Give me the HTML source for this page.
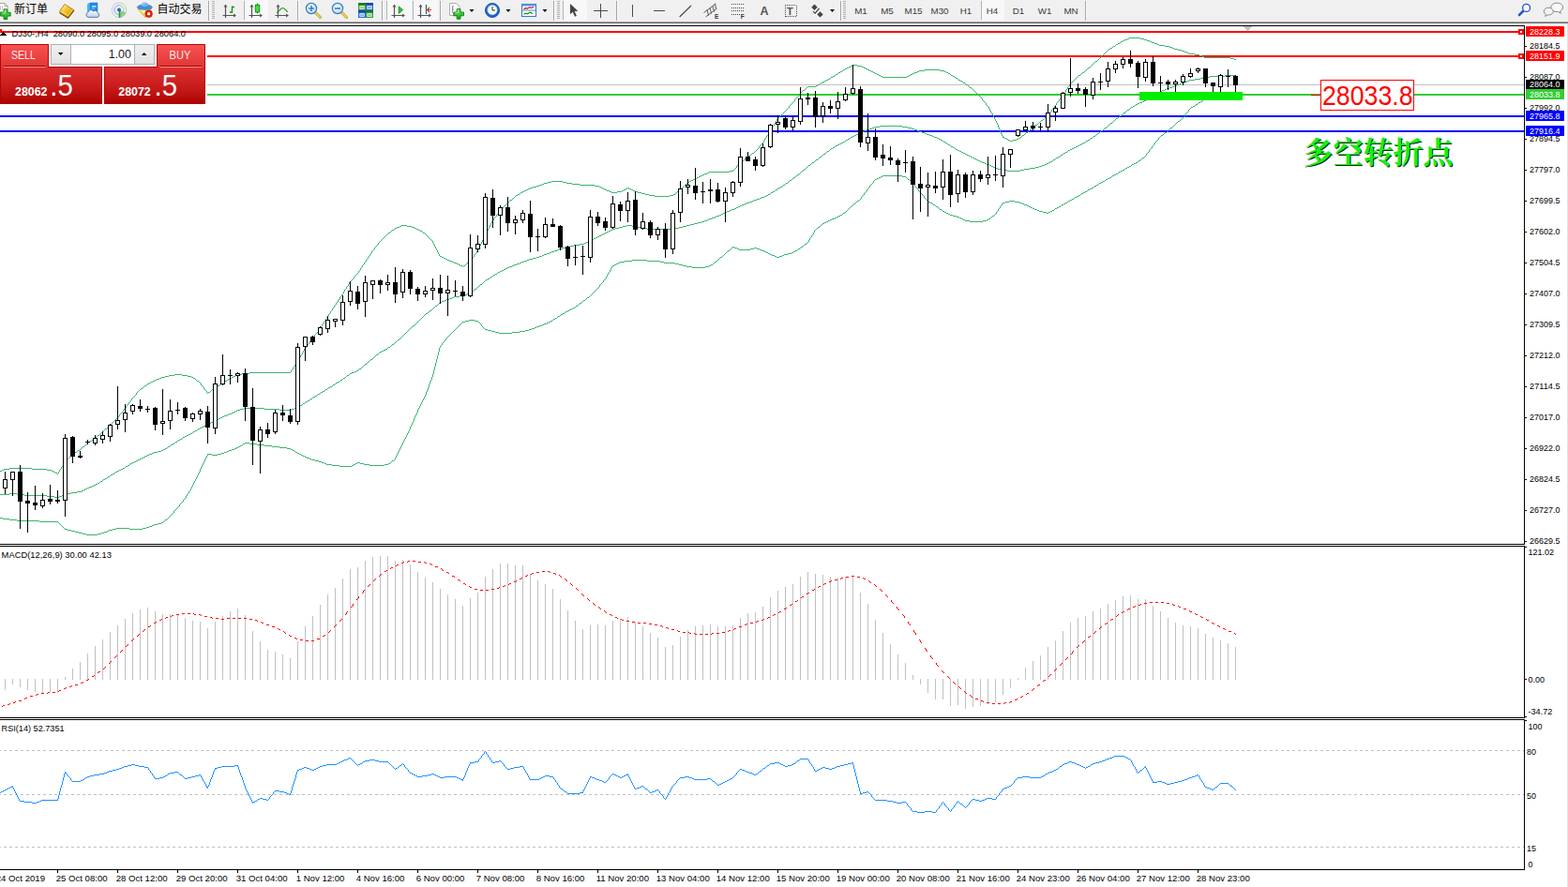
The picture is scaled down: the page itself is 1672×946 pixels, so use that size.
<!DOCTYPE html>
<html><head><meta charset="utf-8"><title>DJ30 H4</title>
<style>
html,body{margin:0;padding:0;background:#fff;}
body{width:1672px;height:946px;overflow:hidden;position:relative;font-family:"Liberation Sans", sans-serif;}
#tb{position:absolute;left:0;top:0;width:1672px;height:23px;background:#f0f0f0;}
.l{position:absolute;}
svg{position:absolute;left:0;top:0;}
svg text{font-family:"Liberation Sans", sans-serif;}
.ax{font-size:9.6px;fill:#000;}
.tbt{font-size:9.8px;fill:#3a3a3a;}
</style></head><body>

<div id="tb"></div>
<div class="l" style="left:0;top:23px;width:1672px;height:1px;background:#a0a0a0"></div>
<div class="l" style="left:0;top:24px;width:1672px;height:1px;background:#696969"></div>
<div class="l" style="left:1671px;top:25px;width:1px;height:921px;background:#e3e3e3"></div>
<svg width="1672" height="946" viewBox="0 0 1672 946">
<defs>
<linearGradient id="gplus" x1="0" y1="0" x2="0" y2="1"><stop offset="0" stop-color="#6be86b"/><stop offset="1" stop-color="#0fa80f"/></linearGradient>
<linearGradient id="ggold" x1="0" y1="0" x2="1" y2="1"><stop offset="0" stop-color="#ffe680"/><stop offset="0.5" stop-color="#f0c020"/><stop offset="1" stop-color="#b07a10"/></linearGradient>
<linearGradient id="gblue" x1="0" y1="0" x2="0" y2="1"><stop offset="0" stop-color="#59b4ff"/><stop offset="1" stop-color="#1a6fd6"/></linearGradient>
<linearGradient id="gcloud" x1="0" y1="0" x2="0" y2="1"><stop offset="0" stop-color="#ffffff"/><stop offset="1" stop-color="#b9cdea"/></linearGradient>
<radialGradient id="glens" cx="0.4" cy="0.35" r="0.7"><stop offset="0" stop-color="#f4fbff"/><stop offset="1" stop-color="#b8dcf2"/></radialGradient>
<linearGradient id="gsellT" x1="0" y1="0" x2="0" y2="1"><stop offset="0" stop-color="#f85252"/><stop offset="1" stop-color="#e03636"/></linearGradient>
<linearGradient id="gsellB" x1="0" y1="0" x2="0" y2="1"><stop offset="0" stop-color="#dc3030"/><stop offset="0.55" stop-color="#c81c1c"/><stop offset="1" stop-color="#ac0404"/></linearGradient>
<linearGradient id="gbtn" x1="0" y1="0" x2="0" y2="1"><stop offset="0" stop-color="#f0f0f0"/><stop offset="1" stop-color="#e2e2e2"/></linearGradient>
<pattern id="chk" width="2" height="2" patternUnits="userSpaceOnUse"><rect width="2" height="2" fill="#ffffff"/><rect width="1" height="1" fill="#f0f0f0"/><rect x="1" y="1" width="1" height="1" fill="#f0f0f0"/></pattern>
</defs>
<g><path d="M-0.500 3.500h5.500l3 3v6.500h-8.500z" fill="#fdfdfd" stroke="#8e8e8e" stroke-width="0.800"/><path d="M5 3.500v3h3" fill="none" stroke="#8e8e8e" stroke-width="0.700"/><path d="M0 7.500h4M0 9.500h6" stroke="#7a7a7a" stroke-width="0.800" stroke-dasharray="1 1"/></g>
<path d="M4.0 9.899999999999999h3.8v3.4h3.4v3.8h-3.4v3.4h-3.8v-3.4h-3.4v-3.8h3.4z" fill="url(#gplus)" stroke="#0b7a0b" stroke-width="0.9" stroke-linejoin="round"/>
<path d="M5.300000000000001 10.899999999999999v3.0h-3.0" stroke="#c8ffc8" stroke-width="0.8" fill="none" opacity="0.9"/>
<text x="15" y="13.8" font-size="12" fill="#000" textLength="36" lengthAdjust="spacingAndGlyphs" style="font-family:'Liberation Sans','Noto Sans CJK SC',sans-serif">新订单</text>
<g><path d="M63.600 13.300c-0.300-0.600 0-1.300 0.400-1.900l5-6.900 10 6.400-6.500 8.300z" fill="url(#ggold)" stroke="#a8700c" stroke-width="0.800" stroke-linejoin="round"/><path d="M63.800 13.600l8.700 5.500 6.300-8" stroke="#8a5a08" stroke-width="1.500" fill="none" stroke-linejoin="round"/><path d="M65.500 12.300l7 4.400 4.800-6.100" stroke="#fff0b0" stroke-width="0.700" fill="none"/><path d="M67 10l3.200-4.300" stroke="#fff6c8" stroke-width="1" opacity="0.800"/></g>
<g><path d="M93.2 4.2l3-1.200h7.800v9.500h-10.800z" fill="#1e8ae6"/><path d="M93.2 4.2l3-1.200v9.500h-3z" fill="#35bcff"/><path d="M96.2 3h7.800v9.500h-7.800z" fill="none" stroke="#1478d8" stroke-width="0.5"/><rect x="98" y="6.200" width="4.600" height="1.300" fill="#e8f4ff"/><rect x="98" y="8.600" width="3" height="0.900" fill="#9fd0ff"/><path d="M94.200 18.400a2.600 2.600 0 0 1-0.300-5.100a3 3 0 0 1 5.600-1.200a2.700 2.700 0 0 1 4.500 1.500a2.500 2.500 0 0 1 0 4.800z" fill="url(#gcloud)" stroke="#5474a8" stroke-width="0.9"/></g>
<g fill="none"><path d="M127 18.500a7.800 7.800 0 0 0 0-15.600" stroke="#b4d8ae" stroke-width="1"/><path d="M127 2.900a7.800 7.800 0 0 0 0 15.600" stroke="#b8caf0" stroke-width="1"/><path d="M127 15.600a5 5 0 0 0 0-10" stroke="#9ccc9c" stroke-width="1"/><path d="M127 5.600a5 5 0 0 0 0 10" stroke="#86a4e6" stroke-width="1"/><path d="M127 10.500v8a8 8 0 0 0 7.400-5z" fill="#5cb05c" opacity="0.550"/><path d="M127.500 11V18.800" stroke="#18a018" stroke-width="1.500"/><circle cx="127" cy="10.400" r="2" fill="#2a62d8"/></g>
<g><path d="M147 9.500h14.500l-3.500 4.500-3.200 4.700z" fill="#f7d84e" stroke="#c89c18" stroke-width="0.700"/><path d="M148.500 10.300h8l-2 5z" fill="#fdf0a8"/><path d="M146.200 7.600c0.500 1.800 4 2.900 8.100 2.900s7.700-1.100 8.200-2.900c-0.600-1.200-2-1.900-3.600-2.200-2.800 0.900-6.400 0.900-9.200 0-1.600 0.300-3 1-3.500 2.200z" fill="#3f92dc" stroke="#2a72b8" stroke-width="0.500"/><path d="M150.300 6.800c0-5.200 8-5.200 8 0-2.400 1.100-5.600 1.100-8 0z" fill="#6bb8f0" stroke="#2a72b8" stroke-width="0.500"/><path d="M151.500 5.200c0.600-2 3-2.400 4.200-1.600" stroke="#c8e6fb" stroke-width="0.800" fill="none"/><circle cx="158.600" cy="14.700" r="3.900" fill="#e02412" stroke="#b01208" stroke-width="0.500"/><rect x="157.200" y="13.300" width="2.800" height="2.800" fill="#fff"/></g>
<text x="167.6" y="13.8" font-size="12" fill="#000" textLength="48" lengthAdjust="spacingAndGlyphs" style="font-family:'Liberation Sans','Noto Sans CJK SC',sans-serif">自动交易</text>
<rect x="222" y="1" width="1" height="21" fill="#a5a5a5" shape-rendering="crispEdges"/><rect x="223" y="1" width="1" height="21" fill="#fbfbfb" shape-rendering="crispEdges"/>
<rect x="226" y="1" width="3" height="1" fill="#b0b0b0" shape-rendering="crispEdges"/>
<rect x="226" y="3" width="3" height="1" fill="#b0b0b0" shape-rendering="crispEdges"/>
<rect x="226" y="5" width="3" height="1" fill="#b0b0b0" shape-rendering="crispEdges"/>
<rect x="226" y="7" width="3" height="1" fill="#b0b0b0" shape-rendering="crispEdges"/>
<rect x="226" y="9" width="3" height="1" fill="#b0b0b0" shape-rendering="crispEdges"/>
<rect x="226" y="11" width="3" height="1" fill="#b0b0b0" shape-rendering="crispEdges"/>
<rect x="226" y="13" width="3" height="1" fill="#b0b0b0" shape-rendering="crispEdges"/>
<rect x="226" y="15" width="3" height="1" fill="#b0b0b0" shape-rendering="crispEdges"/>
<rect x="226" y="17" width="3" height="1" fill="#b0b0b0" shape-rendering="crispEdges"/>
<rect x="226" y="19" width="3" height="1" fill="#b0b0b0" shape-rendering="crispEdges"/>
<g stroke="#555" stroke-width="1.2" fill="#555"><path d="M240.5 6V19M237.5 16.5H250.5" fill="none"/><path d="M240.5 4.5l-2 3h4zM252.0 16.5l-3-2v4z" stroke="none"/></g>
<path d="M247.5 6.5V14M247.5 7.5h2.5M245 13h2.5" stroke="#179017" stroke-width="1.3" fill="none"/>
<rect x="260" y="1" width="1" height="20" fill="#b4b4b4" shape-rendering="crispEdges"/>
<rect x="261" y="0" width="25" height="22" fill="url(#chk)" shape-rendering="crispEdges"/>
<g stroke="#555" stroke-width="1.2" fill="#555"><path d="M268.5 6V19M265.5 16.5H278.5" fill="none"/><path d="M268.5 4.5l-2 3h4zM280.0 16.5l-3-2v4z" stroke="none"/></g>
<path d="M274.5 3.5v11" stroke="#0c8c0c" stroke-width="1.2"/><rect x="272.3" y="5.3" width="4.4" height="7.6" fill="#3fe03f" stroke="#0c8c0c" stroke-width="0.9"/>
<g stroke="#555" stroke-width="1.2" fill="#555"><path d="M296.5 6V19M293.5 16.5H306.5" fill="none"/><path d="M296.5 4.5l-2 3h4zM308.0 16.5l-3-2v4z" stroke="none"/></g>
<path d="M295 13.5c3-1.5 4.5-5 6.5-5s3 3 5.5 4" stroke="#1e9a1e" stroke-width="1.2" fill="none"/>
<rect x="317" y="1" width="1" height="21" fill="#a5a5a5" shape-rendering="crispEdges"/><rect x="318" y="1" width="1" height="21" fill="#fbfbfb" shape-rendering="crispEdges"/>
<g><path d="M336 13l5.5 5.5" stroke="#c9a21a" stroke-width="3" stroke-linecap="round"/><path d="M336 13l5.5 5.5" stroke="#f2dc6a" stroke-width="1.2" stroke-linecap="round"/><circle cx="332" cy="9" r="5.6" fill="url(#glens)" stroke="#2e7cc4" stroke-width="1.2"/><path d="M329 9h6M332 6v6" stroke="#3f86b4" stroke-width="1.7"/></g>
<g><path d="M364 13l5.5 5.5" stroke="#c9a21a" stroke-width="3" stroke-linecap="round"/><path d="M364 13l5.5 5.5" stroke="#f2dc6a" stroke-width="1.2" stroke-linecap="round"/><circle cx="360" cy="9" r="5.6" fill="url(#glens)" stroke="#2e7cc4" stroke-width="1.2"/><path d="M357 9h6" stroke="#3f86b4" stroke-width="1.7"/></g>
<rect x="382" y="3" width="8" height="8" fill="#2ea02e"/><rect x="382" y="3" width="8" height="2.2" fill="#1c7a1c"/><rect x="383.3" y="6.2" width="5.4" height="3.6" fill="#eef4ff"/><rect x="384" y="7.6" width="4" height="0.9" fill="#2ea02e"/>
<rect x="390" y="3" width="8" height="8" fill="#2868d8"/><rect x="390" y="3" width="8" height="2.2" fill="#1448a8"/><rect x="391.3" y="6.2" width="5.4" height="3.6" fill="#eef4ff"/><rect x="392" y="7.6" width="4" height="0.9" fill="#2868d8"/>
<rect x="382" y="11" width="8" height="8" fill="#2868d8"/><rect x="382" y="11" width="8" height="2.2" fill="#1448a8"/><rect x="383.3" y="14.2" width="5.4" height="3.6" fill="#eef4ff"/><rect x="384" y="15.6" width="4" height="0.9" fill="#2868d8"/>
<rect x="390" y="11" width="8" height="8" fill="#2ea02e"/><rect x="390" y="11" width="8" height="2.2" fill="#1c7a1c"/><rect x="391.3" y="14.2" width="5.4" height="3.6" fill="#eef4ff"/><rect x="392" y="15.6" width="4" height="0.9" fill="#2ea02e"/>
<rect x="407" y="1" width="1" height="21" fill="#a5a5a5" shape-rendering="crispEdges"/><rect x="408" y="1" width="1" height="21" fill="#fbfbfb" shape-rendering="crispEdges"/>
<rect x="412" y="1" width="1" height="20" fill="#b4b4b4" shape-rendering="crispEdges"/>
<rect x="413" y="0" width="26" height="22" fill="url(#chk)" shape-rendering="crispEdges"/>
<g stroke="#555" stroke-width="1.2" fill="#555"><path d="M420.5 6V19M417.5 16.5H430.5" fill="none"/><path d="M420.5 4.5l-2 3h4zM432.0 16.5l-3-2v4z" stroke="none"/></g>
<path d="M425.2 6.8v7.6l4.4-3.8z" fill="#34c034" stroke="#148a14" stroke-width="0.8"/>
<rect x="440" y="1" width="1" height="20" fill="#b4b4b4" shape-rendering="crispEdges"/>
<rect x="441" y="0" width="26" height="22" fill="url(#chk)" shape-rendering="crispEdges"/>
<g stroke="#555" stroke-width="1.2" fill="#555"><path d="M448.5 6V19M445.5 16.5H458.5" fill="none"/><path d="M448.5 4.5l-2 3h4zM460.0 16.5l-3-2v4z" stroke="none"/></g>
<path d="M454.5 5v10" stroke="#1a6a9a" stroke-width="1.3"/><path d="M460 10.500h-4M458 8l-2.400 2.500 2.400 2.500" stroke="#c2410c" stroke-width="1.2" fill="none"/>
<rect x="469" y="1" width="1" height="21" fill="#a5a5a5" shape-rendering="crispEdges"/><rect x="470" y="1" width="1" height="21" fill="#fbfbfb" shape-rendering="crispEdges"/>
<g><path d="M479.5 3.5h7l3.5 3.5v9.500h-10.500z" fill="#fbfbfb" stroke="#9c9c9c" stroke-width="0.8"/><path d="M482.5 6.500v7M482.500 7h1.500M482.500 10h1.500" stroke="#7a7a7a" stroke-width="0.8" fill="none"/></g>
<path d="M487.20000000000005 9.600000000000001h3.8v3.4h3.4v3.8h-3.4v3.4h-3.8v-3.4h-3.4v-3.8h3.4z" fill="url(#gplus)" stroke="#0b7a0b" stroke-width="0.9" stroke-linejoin="round"/>
<path d="M488.5 10.600000000000001v3.0h-3.0" stroke="#c8ffc8" stroke-width="0.8" fill="none" opacity="0.9"/>
<path d="M500.5 10h5l-2.500 3z" fill="#111"/>
<g><circle cx="525" cy="11" r="7.6" fill="#1b63c8"/><circle cx="525" cy="11" r="7.6" fill="none" stroke="#0f4aa0" stroke-width="0.8"/><circle cx="525" cy="10.6" r="5.3" fill="#f6f9ff" stroke="#7fb0ea" stroke-width="0.7"/><path d="M525 7v4h3" stroke="#333" stroke-width="1" fill="none"/></g>
<path d="M539.5 10h5l-2.500 3z" fill="#111"/>
<g><rect x="556.5" y="4.5" width="15" height="13" fill="#fff" stroke="#3a78d0" stroke-width="1.1"/><rect x="556.5" y="4.5" width="15" height="2" fill="#5a98e8"/><path d="M557 11h14" stroke="#3a78d0" stroke-width="0.9"/><path d="M558.5 9.6l2-1 2 .4 2-1.2 2 .6 2.4-.9" stroke="#a82010" stroke-width="1.2" fill="none"/><path d="M558.5 15.2l2.2-1 2 .6 2.6-1.8 2.6 1.8" stroke="#1a8a1a" stroke-width="1.2" fill="none"/></g>
<path d="M578.5 10h5l-2.500 3z" fill="#111"/>
<rect x="590" y="1" width="1" height="21" fill="#a5a5a5" shape-rendering="crispEdges"/><rect x="591" y="1" width="1" height="21" fill="#fbfbfb" shape-rendering="crispEdges"/>
<rect x="594" y="1" width="3" height="1" fill="#b0b0b0" shape-rendering="crispEdges"/>
<rect x="594" y="3" width="3" height="1" fill="#b0b0b0" shape-rendering="crispEdges"/>
<rect x="594" y="5" width="3" height="1" fill="#b0b0b0" shape-rendering="crispEdges"/>
<rect x="594" y="7" width="3" height="1" fill="#b0b0b0" shape-rendering="crispEdges"/>
<rect x="594" y="9" width="3" height="1" fill="#b0b0b0" shape-rendering="crispEdges"/>
<rect x="594" y="11" width="3" height="1" fill="#b0b0b0" shape-rendering="crispEdges"/>
<rect x="594" y="13" width="3" height="1" fill="#b0b0b0" shape-rendering="crispEdges"/>
<rect x="594" y="15" width="3" height="1" fill="#b0b0b0" shape-rendering="crispEdges"/>
<rect x="594" y="17" width="3" height="1" fill="#b0b0b0" shape-rendering="crispEdges"/>
<rect x="594" y="19" width="3" height="1" fill="#b0b0b0" shape-rendering="crispEdges"/>
<rect x="600" y="1" width="1" height="20" fill="#b4b4b4" shape-rendering="crispEdges"/>
<rect x="601" y="0" width="25" height="22" fill="url(#chk)" shape-rendering="crispEdges"/>
<path d="M608 4v11.2l2.8-2.4 2.2 5 1.9-0.9-2.2-4.8 3.6-0.3z" fill="#444"/>
<path d="M633 11.5h15M640.5 4v15" stroke="#4a4a4a" stroke-width="1.1" shape-rendering="crispEdges"/>
<rect x="657" y="1" width="1" height="21" fill="#a5a5a5" shape-rendering="crispEdges"/><rect x="658" y="1" width="1" height="21" fill="#fbfbfb" shape-rendering="crispEdges"/>
<path d="M674.5 5v13M697 11.5h12" stroke="#4a4a4a" stroke-width="1.2" shape-rendering="crispEdges"/><path d="M724.7 18L737 6" stroke="#4a4a4a" stroke-width="1.2"/>
<g stroke="#4a4a4a" stroke-width="0.9" fill="none"><path d="M750.5 13.5l12-9M752.5 18l12-9M754 10.5l1.5 6M757 8.5l1.5 6M760 6.5l1.5 6M762.5 3.5l1 6"/></g><text x="762" y="20" font-size="6.5" font-weight="bold" fill="#333">E</text>
<path d="M780 4.5H793" stroke="#4a4a4a" stroke-width="1" stroke-dasharray="1 1" shape-rendering="crispEdges"/>
<path d="M780 8H793" stroke="#4a4a4a" stroke-width="1" stroke-dasharray="1 1" shape-rendering="crispEdges"/>
<path d="M780 11.5H793" stroke="#4a4a4a" stroke-width="1" stroke-dasharray="1 1" shape-rendering="crispEdges"/>
<path d="M780 15.5H789" stroke="#4a4a4a" stroke-width="1" stroke-dasharray="1 1" shape-rendering="crispEdges"/>
<text x="789.8" y="20" font-size="6.5" font-weight="bold" fill="#333">F</text>
<text x="810.6" y="16" font-size="12.5" font-weight="bold" fill="#555">A</text>
<rect x="837" y="5.5" width="12" height="12" fill="none" stroke="#4a4a4a" stroke-width="1" stroke-dasharray="1 1" shape-rendering="crispEdges"/><text x="839" y="16" font-size="11" font-weight="bold" fill="#555">T</text>
<path d="M868.5 4.6l3.200 3.200-3.200 3.200-3.200-3.200zM874.5 12.200l3.200 3.200-3.200 3.200-3.200-3.200z" fill="#444"/><path d="M867 12.200l2.200 2 4.300-5.200" stroke="#444" stroke-width="1.2" fill="none"/>
<path d="M885.0 10h5l-2.500 3z" fill="#111"/>
<rect x="896" y="1" width="1" height="21" fill="#a5a5a5" shape-rendering="crispEdges"/><rect x="897" y="1" width="1" height="21" fill="#fbfbfb" shape-rendering="crispEdges"/>
<rect x="899" y="1" width="3" height="1" fill="#b0b0b0" shape-rendering="crispEdges"/>
<rect x="899" y="3" width="3" height="1" fill="#b0b0b0" shape-rendering="crispEdges"/>
<rect x="899" y="5" width="3" height="1" fill="#b0b0b0" shape-rendering="crispEdges"/>
<rect x="899" y="7" width="3" height="1" fill="#b0b0b0" shape-rendering="crispEdges"/>
<rect x="899" y="9" width="3" height="1" fill="#b0b0b0" shape-rendering="crispEdges"/>
<rect x="899" y="11" width="3" height="1" fill="#b0b0b0" shape-rendering="crispEdges"/>
<rect x="899" y="13" width="3" height="1" fill="#b0b0b0" shape-rendering="crispEdges"/>
<rect x="899" y="15" width="3" height="1" fill="#b0b0b0" shape-rendering="crispEdges"/>
<rect x="899" y="17" width="3" height="1" fill="#b0b0b0" shape-rendering="crispEdges"/>
<rect x="899" y="19" width="3" height="1" fill="#b0b0b0" shape-rendering="crispEdges"/>
<rect x="1047" y="0" width="24" height="22" fill="url(#chk)" shape-rendering="crispEdges"/>
<rect x="1046" y="1" width="1" height="20" fill="#b4b4b4" shape-rendering="crispEdges"/>
<text class="tbt" x="918" y="14.9" text-anchor="middle">M1</text>
<text class="tbt" x="946" y="14.9" text-anchor="middle">M5</text>
<text class="tbt" x="974" y="14.9" text-anchor="middle">M15</text>
<text class="tbt" x="1002" y="14.9" text-anchor="middle">M30</text>
<text class="tbt" x="1030" y="14.9" text-anchor="middle">H1</text>
<text class="tbt" x="1058" y="14.9" text-anchor="middle">H4</text>
<text class="tbt" x="1086" y="14.9" text-anchor="middle">D1</text>
<text class="tbt" x="1114" y="14.9" text-anchor="middle">W1</text>
<text class="tbt" x="1142" y="14.9" text-anchor="middle">MN</text>
<rect x="1157" y="1" width="1" height="21" fill="#a5a5a5" shape-rendering="crispEdges"/><rect x="1158" y="1" width="1" height="21" fill="#fbfbfb" shape-rendering="crispEdges"/>
<g><path d="M1624.6 11.4l-4.6 4.6" stroke="#2a58c8" stroke-width="2.6" stroke-linecap="round"/><circle cx="1627.6" cy="8.4" r="4" fill="#f4f4f4" stroke="#2456d0" stroke-width="1.3"/></g>
<g stroke="#7c7c7c" stroke-width="0.9"><path d="M1660.2 3.2c3.6 0 6.4 2 6.4 4.7 0 1.7-1.2 3.2-3 4l0.6 2.4-2.6-1.8c-0.4 0-0.9 0.1-1.4 0.1-3.6 0-6.4-2.100-6.400-4.7s2.800-4.700 6.400-4.700z" fill="#f8f8fa"/><path d="M1651.300 8.200c2.800 0 5 1.700 5 3.900s-2.200 3.900-5 3.900c-0.500 0-0.900 0-1.300-0.100l-2.200 1.600 0.500-2.200c-1.300-0.700-2-1.900-2-3.200 0-2.200 2.200-3.900 5-3.900z" fill="#f2f2f6"/></g>
<g shape-rendering="crispEdges">
<rect x="0" y="27" width="1626" height="1" fill="#000"/>
<rect x="1625" y="27" width="1" height="901" fill="#000"/>
<rect x="0" y="580" width="1626" height="1" fill="#000"/>
<rect x="0" y="582" width="1626" height="1" fill="#000"/>
<rect x="0" y="765" width="1626" height="1" fill="#000"/>
<rect x="0" y="767" width="1626" height="1" fill="#000"/>
<rect x="0" y="927" width="1626" height="1" fill="#000"/>
<rect x="1625" y="581" width="1" height="1" fill="#fff"/><rect x="1625" y="766" width="1" height="1" fill="#fff"/>
</g>
<g fill="#c0c0c0" shape-rendering="crispEdges"><rect x="1326" y="28" width="9" height="1"/><rect x="1327" y="29" width="7" height="1"/><rect x="1328" y="30" width="5" height="1"/><rect x="1329" y="31" width="3" height="1"/><rect x="1330" y="32" width="1" height="1"/></g>
<g shape-rendering="crispEdges">
<rect x="0" y="33" width="1625" height="2" fill="#ff0000"/>
<rect x="221" y="59" width="1404" height="2" fill="#ff0000"/>
<rect x="221" y="90" width="1404" height="1" fill="#c0c0c0"/>
<rect x="221" y="100" width="1404" height="2" fill="#32cd32"/>
<rect x="0" y="123" width="1625" height="2" fill="#0000ff"/>
<rect x="0" y="139" width="1625" height="2" fill="#0000ff"/>
</g>
<g fill="#3cb371" shape-rendering="crispEdges">
<path d="M0 502h2v1h-2zM2 501h2v1h-2zM4 500h6v1h-6zM10 499h24v1h-24zM34 500h16v1h-16zM50 501h5v1h-5zM55 502h2v1h-2zM57 503h2v1h-2zM59 504h2v1h-2zM61 505h1v1h-1zM62 503h1v2h-1zM63 501h1v2h-1zM64 500h1v1h-1zM65 498h1v2h-1zM66 497h1v1h-1zM67 495h1v2h-1zM68 493h1v2h-1zM69 492h1v1h-1zM70 491h1v1h-1zM71 490h1v1h-1zM72 489h1v1h-1zM73 488h1v1h-1zM74 487h1v1h-1zM75 486h1v1h-1zM76 485h1v1h-1zM77 484h1v1h-1zM78 483h2v1h-2zM80 482h2v1h-2zM82 481h1v1h-1zM83 480h2v1h-2zM85 479h1v1h-1zM86 478h1v1h-1zM87 477h1v1h-1zM88 476h2v1h-2zM90 475h1v1h-1zM91 474h1v1h-1zM92 473h1v1h-1zM93 472h1v1h-1zM94 471h2v1h-2zM96 470h2v1h-2zM98 469h1v1h-1zM99 468h2v1h-2zM101 467h1v1h-1zM102 466h1v1h-1zM103 465h1v1h-1zM104 464h2v1h-2zM106 463h1v1h-1zM107 462h1v1h-1zM108 461h1v1h-1zM109 460h1v1h-1zM110 459h1v1h-1zM111 458h1v1h-1zM112 457h2v1h-2zM114 456h1v1h-1zM115 455h1v1h-1zM116 454h1v1h-1zM117 453h1v1h-1zM118 452h1v1h-1zM119 451h1v1h-1zM120 450h1v1h-1zM121 449h1v1h-1zM122 448h1v1h-1zM123 447h1v1h-1zM124 446h1v1h-1zM125 445h1v1h-1zM126 444h1v1h-1zM127 442h1v2h-1zM128 441h1v1h-1zM129 440h1v1h-1zM130 439h1v1h-1zM131 437h1v2h-1zM132 436h1v1h-1zM133 435h1v1h-1zM134 433h1v2h-1zM135 432h1v1h-1zM136 431h1v1h-1zM137 429h1v2h-1zM138 428h1v1h-1zM139 427h1v1h-1zM140 425h1v2h-1zM141 424h1v1h-1zM142 423h1v1h-1zM143 422h1v1h-1zM144 421h1v1h-1zM145 419h1v2h-1zM146 418h1v1h-1zM147 417h1v1h-1zM148 416h1v1h-1zM149 415h1v1h-1zM150 414h2v1h-2zM152 413h1v1h-1zM153 412h1v1h-1zM154 411h2v1h-2zM156 410h1v1h-1zM157 409h2v1h-2zM159 408h2v1h-2zM161 407h2v1h-2zM163 406h2v1h-2zM165 405h2v1h-2zM167 404h3v1h-3zM170 403h2v1h-2zM172 402h4v1h-4zM176 401h4v1h-4zM180 400h6v1h-6zM186 399h8v1h-8zM194 400h6v1h-6zM200 401h4v1h-4zM204 402h2v1h-2zM206 403h2v1h-2zM208 404h1v1h-1zM209 405h1v1h-1zM210 406h2v1h-2zM212 407h1v1h-1zM213 408h1v1h-1zM214 409h1v2h-1zM215 411h1v1h-1zM216 412h1v1h-1zM217 413h1v2h-1zM218 415h1v1h-1zM219 416h1v1h-1zM220 417h1v2h-1zM221 419h1v1h-1zM222 418h2v1h-2zM224 417h1v1h-1zM225 416h1v1h-1zM226 415h2v1h-2zM228 414h1v1h-1zM229 413h1v1h-1zM230 412h2v1h-2zM232 411h2v1h-2zM234 410h1v1h-1zM235 409h2v1h-2zM237 408h1v1h-1zM238 407h2v1h-2zM240 406h2v1h-2zM242 405h1v1h-1zM243 404h2v1h-2zM245 403h2v1h-2zM247 402h2v1h-2zM249 401h2v1h-2zM251 400h2v1h-2zM253 399h5v1h-5zM258 398h8v1h-8zM266 397h44v1h-44zM310 395h1v2h-1zM311 394h1v1h-1zM312 392h1v2h-1zM313 391h1v1h-1zM314 389h1v2h-1zM315 388h1v1h-1zM316 386h1v2h-1zM317 385h1v1h-1zM318 383h1v2h-1zM319 381h1v2h-1zM320 379h1v2h-1zM321 378h1v1h-1zM322 376h1v2h-1zM323 374h1v2h-1zM324 372h1v2h-1zM325 371h1v1h-1zM326 369h1v2h-1zM327 368h1v1h-1zM328 367h1v1h-1zM329 365h1v2h-1zM330 364h1v1h-1zM331 363h1v1h-1zM332 361h1v2h-1zM333 360h1v1h-1zM334 359h1v1h-1zM335 357h1v2h-1zM336 356h1v1h-1zM337 355h1v1h-1zM338 354h1v1h-1zM339 352h1v2h-1zM340 351h1v1h-1zM341 350h1v1h-1zM342 348h1v2h-1zM343 346h1v2h-1zM344 345h1v1h-1zM345 343h1v2h-1zM346 342h1v1h-1zM347 340h1v2h-1zM348 338h1v2h-1zM349 337h1v1h-1zM350 335h1v2h-1zM351 334h1v1h-1zM352 332h1v2h-1zM353 331h1v1h-1zM354 329h1v2h-1zM355 328h1v1h-1zM356 326h1v2h-1zM357 325h1v1h-1zM358 323h1v2h-1zM359 322h1v1h-1zM360 320h1v2h-1zM361 319h1v1h-1zM362 317h1v2h-1zM363 316h1v1h-1zM364 314h1v2h-1zM365 313h1v1h-1zM366 311h1v2h-1zM367 309h1v2h-1zM368 308h1v1h-1zM369 306h1v2h-1zM370 305h1v1h-1zM371 303h1v2h-1zM372 301h1v2h-1zM373 300h1v1h-1zM374 299h1v1h-1zM375 298h1v1h-1zM376 297h1v1h-1zM377 295h1v2h-1zM378 294h1v1h-1zM379 293h1v1h-1zM380 292h1v1h-1zM381 291h1v1h-1zM382 289h1v2h-1zM383 288h1v1h-1zM384 286h1v2h-1zM385 285h1v1h-1zM386 283h1v2h-1zM387 282h1v1h-1zM388 280h1v2h-1zM389 279h1v1h-1zM390 277h1v2h-1zM391 276h1v1h-1zM392 274h1v2h-1zM393 273h1v1h-1zM394 271h1v2h-1zM395 270h1v1h-1zM396 268h1v2h-1zM397 267h1v1h-1zM398 266h1v1h-1zM399 264h1v2h-1zM400 263h1v1h-1zM401 262h1v1h-1zM402 261h1v1h-1zM403 259h1v2h-1zM404 258h1v1h-1zM405 257h1v1h-1zM406 256h1v1h-1zM407 255h1v1h-1zM408 254h1v1h-1zM409 253h1v1h-1zM410 252h1v1h-1zM411 251h1v1h-1zM412 250h1v1h-1zM413 249h1v1h-1zM414 248h2v1h-2zM416 247h1v1h-1zM417 246h1v1h-1zM418 245h2v1h-2zM420 244h1v1h-1zM421 243h2v1h-2zM423 242h3v1h-3zM426 241h2v1h-2zM428 240h6v1h-6zM434 241h5v1h-5zM439 242h3v1h-3zM442 243h2v1h-2zM444 244h2v1h-2zM446 245h2v1h-2zM448 246h2v1h-2zM450 247h1v1h-1zM451 248h2v1h-2zM453 249h1v1h-1zM454 250h1v1h-1zM455 251h1v1h-1zM456 252h1v1h-1zM457 253h1v1h-1zM458 254h1v1h-1zM459 255h1v1h-1zM460 256h1v1h-1zM461 257h1v2h-1zM462 259h1v2h-1zM463 261h1v2h-1zM464 263h1v2h-1zM465 265h1v2h-1zM466 267h1v2h-1zM467 269h1v2h-1zM468 271h1v2h-1zM469 273h2v1h-2zM471 274h2v1h-2zM473 275h2v1h-2zM475 276h2v1h-2zM477 277h2v1h-2zM479 278h3v1h-3zM482 279h2v1h-2zM484 280h3v1h-3zM487 281h2v1h-2zM489 282h2v1h-2zM491 283h2v1h-2zM493 284h1v1h-1zM494 283h2v1h-2zM496 282h1v1h-1zM497 281h1v1h-1zM498 280h2v1h-2zM500 279h1v1h-1zM501 278h1v1h-1zM502 276h1v2h-1zM503 275h1v1h-1zM504 274h1v1h-1zM505 272h1v2h-1zM506 271h1v1h-1zM507 270h1v1h-1zM508 268h1v2h-1zM509 266h1v2h-1zM510 264h1v2h-1zM511 262h1v2h-1zM512 260h1v2h-1zM513 258h1v2h-1zM514 256h1v2h-1zM515 254h1v2h-1zM516 252h1v2h-1zM517 250h1v2h-1zM518 248h1v2h-1zM519 246h1v2h-1zM520 244h1v2h-1zM521 242h1v2h-1zM522 240h1v2h-1zM523 238h1v2h-1zM524 236h1v2h-1zM525 235h1v1h-1zM526 233h1v2h-1zM527 232h1v1h-1zM528 231h1v1h-1zM529 229h1v2h-1zM530 228h1v1h-1zM531 227h1v1h-1zM532 225h1v2h-1zM533 224h1v1h-1zM534 223h1v1h-1zM535 222h1v1h-1zM536 221h1v1h-1zM537 220h1v1h-1zM538 219h1v1h-1zM539 218h1v1h-1zM540 217h1v1h-1zM541 216h1v1h-1zM542 215h1v1h-1zM543 214h1v1h-1zM544 213h2v1h-2zM546 212h1v1h-1zM547 211h1v1h-1zM548 210h1v1h-1zM549 209h1v1h-1zM550 208h2v1h-2zM552 207h2v1h-2zM554 206h1v1h-1zM555 205h2v1h-2zM557 204h2v1h-2zM559 203h2v1h-2zM561 202h2v1h-2zM563 201h2v1h-2zM565 200h3v1h-3zM568 199h4v1h-4zM572 198h3v1h-3zM575 197h3v1h-3zM578 196h2v1h-2zM580 195h4v1h-4zM584 194h4v1h-4zM588 193h12v1h-12zM600 194h4v1h-4zM604 195h6v1h-6zM610 196h8v1h-8zM618 197h16v1h-16zM634 198h5v1h-5zM639 199h2v1h-2zM641 200h2v1h-2zM643 201h2v1h-2zM645 202h2v1h-2zM647 203h3v1h-3zM650 204h2v1h-2zM652 205h6v1h-6zM658 204h5v1h-5zM663 203h2v1h-2zM665 202h2v1h-2zM667 201h2v1h-2zM669 200h2v1h-2zM671 201h2v1h-2zM673 202h2v1h-2zM675 203h2v1h-2zM677 204h3v1h-3zM680 205h4v1h-4zM684 206h4v1h-4zM688 207h4v1h-4zM692 208h6v1h-6zM698 209h16v1h-16zM714 208h4v1h-4zM718 207h2v1h-2zM720 206h1v1h-1zM721 205h1v1h-1zM722 204h2v1h-2zM724 203h1v1h-1zM725 202h1v1h-1zM726 201h1v1h-1zM727 200h1v1h-1zM728 199h1v1h-1zM729 198h1v1h-1zM730 197h1v1h-1zM731 196h1v1h-1zM732 195h1v1h-1zM733 194h2v1h-2zM735 193h2v1h-2zM737 192h2v1h-2zM739 191h2v1h-2zM741 190h2v1h-2zM743 189h2v1h-2zM745 188h2v1h-2zM747 187h2v1h-2zM749 186h2v1h-2zM751 185h3v1h-3zM754 184h2v1h-2zM756 183h22v1h-22zM778 182h4v1h-4zM782 181h1v1h-1zM783 180h1v1h-1zM784 179h1v1h-1zM785 177h1v2h-1zM786 176h1v1h-1zM787 175h1v1h-1zM788 174h1v1h-1zM789 173h1v1h-1zM790 172h2v1h-2zM792 171h1v1h-1zM793 170h1v1h-1zM794 169h2v1h-2zM796 168h1v1h-1zM797 167h1v1h-1zM798 166h2v1h-2zM800 165h1v1h-1zM801 164h1v1h-1zM802 163h2v1h-2zM804 162h1v1h-1zM805 161h1v1h-1zM806 160h1v1h-1zM807 159h1v1h-1zM808 158h1v1h-1zM809 156h1v2h-1zM810 155h1v1h-1zM811 154h1v1h-1zM812 153h1v1h-1zM813 152h1v1h-1zM814 150h1v2h-1zM815 148h1v2h-1zM816 147h1v1h-1zM817 145h1v2h-1zM818 144h1v1h-1zM819 142h1v2h-1zM820 140h1v2h-1zM821 139h1v1h-1zM822 137h1v2h-1zM823 135h1v2h-1zM824 134h1v1h-1zM825 132h1v2h-1zM826 131h1v1h-1zM827 129h1v2h-1zM828 127h1v2h-1zM829 126h1v1h-1zM830 125h1v1h-1zM831 124h1v1h-1zM832 123h1v1h-1zM833 122h1v1h-1zM834 121h1v1h-1zM835 120h1v1h-1zM836 119h1v1h-1zM837 118h1v1h-1zM838 117h1v1h-1zM839 116h1v1h-1zM840 115h1v1h-1zM841 113h1v2h-1zM842 112h1v1h-1zM843 111h1v1h-1zM844 110h1v1h-1zM845 109h1v1h-1zM846 108h1v1h-1zM847 106h1v2h-1zM848 105h1v1h-1zM849 104h1v1h-1zM850 103h1v1h-1zM851 101h1v2h-1zM852 100h1v1h-1zM853 99h1v1h-1zM854 98h1v1h-1zM855 97h1v1h-1zM856 96h2v1h-2zM858 95h1v1h-1zM859 94h1v1h-1zM860 93h1v1h-1zM861 92h9v1h-9zM870 91h2v1h-2zM872 90h2v1h-2zM874 89h1v1h-1zM875 88h2v1h-2zM877 87h2v1h-2zM879 86h2v1h-2zM881 85h2v1h-2zM883 84h2v1h-2zM885 83h1v1h-1zM886 82h2v1h-2zM888 81h2v1h-2zM890 80h1v1h-1zM891 79h2v1h-2zM893 78h1v1h-1zM894 77h2v1h-2zM896 76h2v1h-2zM898 75h1v1h-1zM899 74h2v1h-2zM901 73h2v1h-2zM903 72h2v1h-2zM905 71h2v1h-2zM907 70h2v1h-2zM909 69h5v1h-5zM914 70h5v1h-5zM919 71h2v1h-2zM921 72h2v1h-2zM923 73h2v1h-2zM925 74h2v1h-2zM927 75h2v1h-2zM929 76h2v1h-2zM931 77h2v1h-2zM933 78h2v1h-2zM935 79h2v1h-2zM937 80h2v1h-2zM939 81h2v1h-2zM941 82h26v1h-26zM967 81h2v1h-2zM969 80h2v1h-2zM971 79h2v1h-2zM973 78h2v1h-2zM975 77h3v1h-3zM978 76h2v1h-2zM980 75h6v1h-6zM986 74h16v1h-16zM1002 75h5v1h-5zM1007 76h2v1h-2zM1009 77h2v1h-2zM1011 78h2v1h-2zM1013 79h1v1h-1zM1014 80h2v1h-2zM1016 81h2v1h-2zM1018 82h1v1h-1zM1019 83h2v1h-2zM1021 84h1v1h-1zM1022 85h2v1h-2zM1024 86h2v1h-2zM1026 87h1v1h-1zM1027 88h2v1h-2zM1029 89h1v1h-1zM1030 90h2v1h-2zM1032 91h1v1h-1zM1033 92h1v1h-1zM1034 93h2v1h-2zM1036 94h1v1h-1zM1037 95h1v1h-1zM1038 96h1v1h-1zM1039 97h1v1h-1zM1040 98h1v1h-1zM1041 99h1v1h-1zM1042 100h1v1h-1zM1043 101h1v1h-1zM1044 102h1v1h-1zM1045 103h1v1h-1zM1046 104h1v1h-1zM1047 105h1v2h-1zM1048 107h1v1h-1zM1049 108h1v1h-1zM1050 109h1v1h-1zM1051 110h1v2h-1zM1052 112h1v1h-1zM1053 113h1v1h-1zM1054 114h1v2h-1zM1055 116h1v2h-1zM1056 118h1v2h-1zM1057 120h1v1h-1zM1058 121h1v2h-1zM1059 123h1v2h-1zM1060 125h1v2h-1zM1061 127h1v2h-1zM1062 129h1v2h-1zM1063 131h1v2h-1zM1064 133h1v3h-1zM1065 136h1v2h-1zM1066 138h1v3h-1zM1067 141h1v2h-1zM1068 143h1v2h-1zM1069 145h1v2h-1zM1070 146h1v1h-1zM1071 147h2v1h-2zM1073 148h2v1h-2zM1075 149h2v1h-2zM1077 150h3v1h-3zM1080 149h4v1h-4zM1084 148h2v1h-2zM1086 147h2v1h-2zM1088 146h1v1h-1zM1089 145h1v1h-1zM1090 144h2v1h-2zM1092 143h1v1h-1zM1093 142h1v1h-1zM1094 141h2v1h-2zM1096 140h1v1h-1zM1097 139h1v1h-1zM1098 138h2v1h-2zM1100 137h1v1h-1zM1101 136h1v1h-1zM1102 135h1v1h-1zM1103 134h1v1h-1zM1104 133h2v1h-2zM1106 132h1v1h-1zM1107 131h1v1h-1zM1108 130h1v1h-1zM1109 129h1v1h-1zM1110 128h2v1h-2zM1112 127h1v1h-1zM1113 126h1v1h-1zM1114 125h2v1h-2zM1116 124h1v1h-1zM1117 123h1v1h-1zM1118 121h1v2h-1zM1119 120h1v1h-1zM1120 119h1v1h-1zM1121 117h1v2h-1zM1122 116h1v1h-1zM1123 115h1v1h-1zM1124 113h1v2h-1zM1125 112h1v1h-1zM1126 110h1v2h-1zM1127 109h1v1h-1zM1128 108h1v1h-1zM1129 106h1v2h-1zM1130 105h1v1h-1zM1131 104h1v1h-1zM1132 102h1v2h-1zM1133 101h1v1h-1zM1134 99h1v2h-1zM1135 98h1v1h-1zM1136 96h1v2h-1zM1137 95h1v1h-1zM1138 93h1v2h-1zM1139 92h1v1h-1zM1140 90h1v2h-1zM1141 89h1v1h-1zM1142 88h1v1h-1zM1143 87h1v1h-1zM1144 86h1v1h-1zM1145 85h1v1h-1zM1146 84h1v1h-1zM1147 83h1v1h-1zM1148 82h1v1h-1zM1149 81h1v1h-1zM1150 80h2v1h-2zM1152 79h1v1h-1zM1153 78h1v1h-1zM1154 77h2v1h-2zM1156 76h1v1h-1zM1157 75h1v1h-1zM1158 74h1v1h-1zM1159 73h1v1h-1zM1160 72h2v1h-2zM1162 71h1v1h-1zM1163 70h1v1h-1zM1164 69h1v1h-1zM1165 68h1v1h-1zM1166 67h1v1h-1zM1167 66h1v1h-1zM1168 65h2v1h-2zM1170 64h1v1h-1zM1171 63h1v1h-1zM1172 62h1v1h-1zM1173 61h1v1h-1zM1174 60h1v1h-1zM1175 59h1v1h-1zM1176 58h1v1h-1zM1177 57h1v1h-1zM1178 56h1v1h-1zM1179 55h1v1h-1zM1180 54h1v1h-1zM1181 53h1v1h-1zM1182 52h2v1h-2zM1184 51h2v1h-2zM1186 50h1v1h-1zM1187 49h2v1h-2zM1189 48h1v1h-1zM1190 47h2v1h-2zM1192 46h2v1h-2zM1194 45h1v1h-1zM1195 44h2v1h-2zM1197 43h2v1h-2zM1199 42h3v1h-3zM1202 41h2v1h-2zM1204 40h12v1h-12zM1216 41h4v1h-4zM1220 42h3v1h-3zM1223 43h3v1h-3zM1226 44h2v1h-2zM1228 45h3v1h-3zM1231 46h3v1h-3zM1234 47h2v1h-2zM1236 48h6v1h-6zM1242 49h5v1h-5zM1247 50h3v1h-3zM1250 51h2v1h-2zM1252 52h4v1h-4zM1256 53h4v1h-4zM1260 54h3v1h-3zM1263 55h3v1h-3zM1266 56h2v1h-2zM1268 57h6v1h-6zM1274 58h5v1h-5zM1279 59h3v1h-3zM1282 60h2v1h-2zM1284 61h28v1h-28zM1312 62h4v1h-4zM1316 63h2v1h-2z"/>
<path d="M0 527h10v1h-10zM10 526h8v1h-8zM18 527h8v1h-8zM26 528h24v1h-24zM50 529h8v1h-8zM58 530h5v1h-5zM63 529h3v1h-3zM66 528h2v1h-2zM68 527h4v1h-4zM72 526h4v1h-4zM76 525h6v1h-6zM82 524h5v1h-5zM87 523h2v1h-2zM89 522h2v1h-2zM91 521h2v1h-2zM93 520h2v1h-2zM95 519h3v1h-3zM98 518h2v1h-2zM100 517h2v1h-2zM102 516h2v1h-2zM104 515h2v1h-2zM106 514h1v1h-1zM107 513h2v1h-2zM109 512h1v1h-1zM110 511h2v1h-2zM112 510h2v1h-2zM114 509h1v1h-1zM115 508h2v1h-2zM117 507h1v1h-1zM118 506h2v1h-2zM120 505h2v1h-2zM122 504h1v1h-1zM123 503h2v1h-2zM125 502h2v1h-2zM127 501h2v1h-2zM129 500h2v1h-2zM131 499h2v1h-2zM133 498h1v1h-1zM134 497h2v1h-2zM136 496h2v1h-2zM138 495h1v1h-1zM139 494h2v1h-2zM141 493h2v1h-2zM143 492h2v1h-2zM145 491h2v1h-2zM147 490h2v1h-2zM149 489h2v1h-2zM151 488h2v1h-2zM153 487h2v1h-2zM155 486h2v1h-2zM157 485h2v1h-2zM159 484h3v1h-3zM162 483h2v1h-2zM164 482h4v1h-4zM168 481h4v1h-4zM172 480h2v1h-2zM174 479h2v1h-2zM176 478h2v1h-2zM178 477h1v1h-1zM179 476h2v1h-2zM181 475h1v1h-1zM182 474h2v1h-2zM184 473h2v1h-2zM186 472h1v1h-1zM187 471h2v1h-2zM189 470h1v1h-1zM190 469h2v1h-2zM192 468h2v1h-2zM194 467h1v1h-1zM195 466h2v1h-2zM197 465h2v1h-2zM199 464h2v1h-2zM201 463h2v1h-2zM203 462h2v1h-2zM205 461h1v1h-1zM206 460h2v1h-2zM208 459h2v1h-2zM210 458h1v1h-1zM211 457h2v1h-2zM213 456h2v1h-2zM215 455h2v1h-2zM217 454h2v1h-2zM219 453h2v1h-2zM221 452h2v1h-2zM223 451h2v1h-2zM225 450h2v1h-2zM227 449h2v1h-2zM229 448h2v1h-2zM231 447h2v1h-2zM233 446h2v1h-2zM235 445h2v1h-2zM237 444h2v1h-2zM239 443h3v1h-3zM242 442h2v1h-2zM244 441h3v1h-3zM247 440h2v1h-2zM249 439h2v1h-2zM251 438h2v1h-2zM253 437h3v1h-3zM256 436h4v1h-4zM260 435h22v1h-22zM282 436h16v1h-16zM298 437h13v1h-13zM311 436h3v1h-3zM314 435h2v1h-2zM316 434h2v1h-2zM318 433h2v1h-2zM320 432h2v1h-2zM322 431h1v1h-1zM323 430h2v1h-2zM325 429h1v1h-1zM326 428h2v1h-2zM328 427h2v1h-2zM330 426h1v1h-1zM331 425h2v1h-2zM333 424h1v1h-1zM334 423h2v1h-2zM336 422h2v1h-2zM338 421h1v1h-1zM339 420h2v1h-2zM341 419h1v1h-1zM342 418h2v1h-2zM344 417h2v1h-2zM346 416h1v1h-1zM347 415h2v1h-2zM349 414h1v1h-1zM350 413h2v1h-2zM352 412h2v1h-2zM354 411h1v1h-1zM355 410h2v1h-2zM357 409h1v1h-1zM358 408h2v1h-2zM360 407h2v1h-2zM362 406h1v1h-1zM363 405h2v1h-2zM365 404h1v1h-1zM366 403h2v1h-2zM368 402h1v1h-1zM369 401h1v1h-1zM370 400h2v1h-2zM372 399h1v1h-1zM373 398h2v1h-2zM375 397h3v1h-3zM378 396h2v1h-2zM380 395h2v1h-2zM382 394h1v1h-1zM383 393h2v1h-2zM385 392h1v1h-1zM386 391h1v1h-1zM387 390h1v1h-1zM388 389h1v1h-1zM389 388h2v1h-2zM391 387h1v1h-1zM392 386h1v1h-1zM393 385h1v1h-1zM394 384h1v1h-1zM395 383h2v1h-2zM397 382h1v1h-1zM398 381h1v1h-1zM399 380h1v1h-1zM400 379h1v1h-1zM401 378h2v1h-2zM403 377h1v1h-1zM404 376h1v1h-1zM405 375h2v1h-2zM407 374h2v1h-2zM409 373h2v1h-2zM411 372h2v1h-2zM413 371h1v1h-1zM414 370h2v1h-2zM416 369h1v1h-1zM417 368h1v1h-1zM418 367h2v1h-2zM420 366h1v1h-1zM421 365h1v1h-1zM422 364h1v1h-1zM423 363h1v1h-1zM424 362h2v1h-2zM426 361h1v1h-1zM427 360h1v1h-1zM428 359h1v1h-1zM429 358h1v1h-1zM430 357h1v1h-1zM431 356h1v1h-1zM432 355h1v1h-1zM433 354h1v1h-1zM434 353h1v1h-1zM435 352h1v1h-1zM436 351h1v1h-1zM437 350h1v1h-1zM438 349h1v1h-1zM439 348h1v1h-1zM440 347h2v1h-2zM442 346h1v1h-1zM443 345h1v1h-1zM444 344h1v1h-1zM445 343h1v1h-1zM446 342h1v1h-1zM447 341h1v1h-1zM448 340h1v1h-1zM449 339h1v1h-1zM450 338h1v1h-1zM451 337h1v1h-1zM452 336h1v1h-1zM453 335h1v1h-1zM454 334h2v1h-2zM456 333h1v1h-1zM457 332h1v1h-1zM458 331h2v1h-2zM460 330h1v1h-1zM461 329h1v1h-1zM462 328h1v1h-1zM463 327h1v1h-1zM464 326h2v1h-2zM466 325h1v1h-1zM467 324h1v1h-1zM468 323h1v1h-1zM469 322h2v1h-2zM471 321h3v1h-3zM474 320h2v1h-2zM476 319h3v1h-3zM479 318h3v1h-3zM482 317h2v1h-2zM484 316h6v1h-6zM490 315h5v1h-5zM495 314h3v1h-3zM498 313h2v1h-2zM500 312h2v1h-2zM502 311h2v1h-2zM504 310h1v1h-1zM505 309h1v1h-1zM506 308h2v1h-2zM508 307h1v1h-1zM509 306h1v1h-1zM510 305h1v1h-1zM511 304h1v1h-1zM512 303h2v1h-2zM514 302h1v1h-1zM515 301h1v1h-1zM516 300h1v1h-1zM517 299h1v1h-1zM518 298h2v1h-2zM520 297h2v1h-2zM522 296h1v1h-1zM523 295h2v1h-2zM525 294h1v1h-1zM526 293h2v1h-2zM528 292h2v1h-2zM530 291h1v1h-1zM531 290h2v1h-2zM533 289h2v1h-2zM535 288h2v1h-2zM537 287h2v1h-2zM539 286h2v1h-2zM541 285h2v1h-2zM543 284h3v1h-3zM546 283h2v1h-2zM548 282h3v1h-3zM551 281h3v1h-3zM554 280h2v1h-2zM556 279h3v1h-3zM559 278h3v1h-3zM562 277h2v1h-2zM564 276h4v1h-4zM568 275h4v1h-4zM572 274h3v1h-3zM575 273h3v1h-3zM578 272h2v1h-2zM580 271h3v1h-3zM583 270h3v1h-3zM586 269h2v1h-2zM588 268h3v1h-3zM591 267h3v1h-3zM594 266h2v1h-2zM596 265h4v1h-4zM600 264h4v1h-4zM604 263h4v1h-4zM608 262h4v1h-4zM612 261h6v1h-6zM618 260h5v1h-5zM623 259h2v1h-2zM625 258h2v1h-2zM627 257h2v1h-2zM629 256h2v1h-2zM631 255h2v1h-2zM633 254h2v1h-2zM635 253h2v1h-2zM637 252h2v1h-2zM639 251h2v1h-2zM641 250h2v1h-2zM643 249h2v1h-2zM645 248h2v1h-2zM647 247h2v1h-2zM649 246h2v1h-2zM651 245h2v1h-2zM653 244h3v1h-3zM656 243h4v1h-4zM660 242h4v1h-4zM664 241h4v1h-4zM668 240h6v1h-6zM674 241h6v1h-6zM680 242h4v1h-4zM684 243h6v1h-6zM690 244h30v1h-30zM720 243h4v1h-4zM724 242h4v1h-4zM728 241h4v1h-4zM732 240h4v1h-4zM736 239h4v1h-4zM740 238h4v1h-4zM744 237h4v1h-4zM748 236h3v1h-3zM751 235h3v1h-3zM754 234h2v1h-2zM756 233h3v1h-3zM759 232h3v1h-3zM762 231h2v1h-2zM764 230h3v1h-3zM767 229h2v1h-2zM769 228h2v1h-2zM771 227h2v1h-2zM773 226h2v1h-2zM775 225h3v1h-3zM778 224h2v1h-2zM780 223h3v1h-3zM783 222h2v1h-2zM785 221h2v1h-2zM787 220h2v1h-2zM789 219h2v1h-2zM791 218h3v1h-3zM794 217h2v1h-2zM796 216h3v1h-3zM799 215h3v1h-3zM802 214h2v1h-2zM804 213h3v1h-3zM807 212h3v1h-3zM810 211h2v1h-2zM812 210h3v1h-3zM815 209h2v1h-2zM817 208h2v1h-2zM819 207h2v1h-2zM821 206h1v1h-1zM822 205h2v1h-2zM824 204h2v1h-2zM826 203h1v1h-1zM827 202h2v1h-2zM829 201h1v1h-1zM830 200h2v1h-2zM832 199h2v1h-2zM834 198h1v1h-1zM835 197h2v1h-2zM837 196h1v1h-1zM838 195h2v1h-2zM840 194h1v1h-1zM841 193h1v1h-1zM842 192h2v1h-2zM844 191h1v1h-1zM845 190h1v1h-1zM846 189h2v1h-2zM848 188h1v1h-1zM849 187h1v1h-1zM850 186h2v1h-2zM852 185h1v1h-1zM853 184h1v1h-1zM854 183h1v1h-1zM855 182h1v1h-1zM856 181h2v1h-2zM858 180h1v1h-1zM859 179h1v1h-1zM860 178h1v1h-1zM861 177h1v1h-1zM862 176h2v1h-2zM864 175h1v1h-1zM865 174h1v1h-1zM866 173h2v1h-2zM868 172h1v1h-1zM869 171h1v1h-1zM870 170h2v1h-2zM872 169h1v1h-1zM873 168h1v1h-1zM874 167h2v1h-2zM876 166h1v1h-1zM877 165h1v1h-1zM878 164h2v1h-2zM880 163h1v1h-1zM881 162h1v1h-1zM882 161h2v1h-2zM884 160h1v1h-1zM885 159h1v1h-1zM886 158h2v1h-2zM888 157h2v1h-2zM890 156h1v1h-1zM891 155h2v1h-2zM893 154h2v1h-2zM895 153h2v1h-2zM897 152h2v1h-2zM899 151h2v1h-2zM901 150h1v1h-1zM902 149h2v1h-2zM904 148h2v1h-2zM906 147h1v1h-1zM907 146h2v1h-2zM909 145h2v1h-2zM911 144h2v1h-2zM913 143h2v1h-2zM915 142h2v1h-2zM917 141h2v1h-2zM919 140h3v1h-3zM922 139h2v1h-2zM924 138h3v1h-3zM927 137h3v1h-3zM930 136h2v1h-2zM932 135h6v1h-6zM938 134h24v1h-24zM962 135h6v1h-6zM968 136h4v1h-4zM972 137h3v1h-3zM975 138h3v1h-3zM978 139h2v1h-2zM980 140h3v1h-3zM983 141h3v1h-3zM986 142h2v1h-2zM988 143h3v1h-3zM991 144h3v1h-3zM994 145h2v1h-2zM996 146h3v1h-3zM999 147h2v1h-2zM1001 148h2v1h-2zM1003 149h2v1h-2zM1005 150h1v1h-1zM1006 151h2v1h-2zM1008 152h2v1h-2zM1010 153h1v1h-1zM1011 154h2v1h-2zM1013 155h1v1h-1zM1014 156h2v1h-2zM1016 157h2v1h-2zM1018 158h1v1h-1zM1019 159h2v1h-2zM1021 160h2v1h-2zM1023 161h2v1h-2zM1025 162h2v1h-2zM1027 163h2v1h-2zM1029 164h2v1h-2zM1031 165h2v1h-2zM1033 166h2v1h-2zM1035 167h2v1h-2zM1037 168h2v1h-2zM1039 169h2v1h-2zM1041 170h2v1h-2zM1043 171h2v1h-2zM1045 172h2v1h-2zM1047 173h3v1h-3zM1050 174h2v1h-2zM1052 175h3v1h-3zM1055 176h2v1h-2zM1057 177h2v1h-2zM1059 178h2v1h-2zM1061 179h3v1h-3zM1064 180h4v1h-4zM1068 181h6v1h-6zM1074 182h14v1h-14zM1088 181h4v1h-4zM1092 180h6v1h-6zM1098 179h6v1h-6zM1104 178h4v1h-4zM1108 177h3v1h-3zM1111 176h3v1h-3zM1114 175h2v1h-2zM1116 174h2v1h-2zM1118 173h2v1h-2zM1120 172h2v1h-2zM1122 171h1v1h-1zM1123 170h2v1h-2zM1125 169h1v1h-1zM1126 168h2v1h-2zM1128 167h2v1h-2zM1130 166h1v1h-1zM1131 165h2v1h-2zM1133 164h1v1h-1zM1134 163h2v1h-2zM1136 162h2v1h-2zM1138 161h1v1h-1zM1139 160h2v1h-2zM1141 159h2v1h-2zM1143 158h2v1h-2zM1145 157h2v1h-2zM1147 156h2v1h-2zM1149 155h2v1h-2zM1151 154h2v1h-2zM1153 153h2v1h-2zM1155 152h2v1h-2zM1157 151h1v1h-1zM1158 150h2v1h-2zM1160 149h2v1h-2zM1162 148h1v1h-1zM1163 147h2v1h-2zM1165 146h1v1h-1zM1166 145h2v1h-2zM1168 144h1v1h-1zM1169 143h1v1h-1zM1170 142h2v1h-2zM1172 141h1v1h-1zM1173 140h1v1h-1zM1174 139h2v1h-2zM1176 138h1v1h-1zM1177 137h1v1h-1zM1178 136h2v1h-2zM1180 135h1v1h-1zM1181 134h1v1h-1zM1182 133h1v1h-1zM1183 132h1v1h-1zM1184 131h2v1h-2zM1186 130h1v1h-1zM1187 129h1v1h-1zM1188 128h1v1h-1zM1189 127h1v1h-1zM1190 126h2v1h-2zM1192 125h1v1h-1zM1193 124h1v1h-1zM1194 123h2v1h-2zM1196 122h1v1h-1zM1197 121h1v1h-1zM1198 120h2v1h-2zM1200 119h1v1h-1zM1201 118h1v1h-1zM1202 117h2v1h-2zM1204 116h1v1h-1zM1205 115h1v1h-1zM1206 114h2v1h-2zM1208 113h2v1h-2zM1210 112h1v1h-1zM1211 111h2v1h-2zM1213 110h2v1h-2zM1215 109h3v1h-3zM1218 108h2v1h-2zM1220 107h2v1h-2zM1222 106h2v1h-2zM1224 105h2v1h-2zM1226 104h1v1h-1zM1227 103h2v1h-2zM1229 102h1v1h-1zM1230 101h2v1h-2zM1232 100h2v1h-2zM1234 99h1v1h-1zM1235 98h2v1h-2zM1237 97h2v1h-2zM1239 96h3v1h-3zM1242 95h2v1h-2zM1244 94h3v1h-3zM1247 93h3v1h-3zM1250 92h2v1h-2zM1252 91h3v1h-3zM1255 90h3v1h-3zM1258 89h2v1h-2zM1260 88h3v1h-3zM1263 87h3v1h-3zM1266 86h2v1h-2zM1268 85h6v1h-6zM1274 84h6v1h-6zM1280 83h4v1h-4zM1284 82h6v1h-6zM1290 81h16v1h-16zM1306 80h12v1h-12z"/>
<path d="M0 552h3v1h-3zM3 553h7v1h-7zM10 554h8v1h-8zM18 555h24v1h-24zM42 556h20v1h-20zM62 557h1v1h-1zM63 558h1v1h-1zM64 559h1v1h-1zM65 560h1v1h-1zM66 561h1v1h-1zM67 562h1v1h-1zM68 563h1v1h-1zM69 564h3v1h-3zM72 565h4v1h-4zM76 566h4v1h-4zM80 567h4v1h-4zM84 568h4v1h-4zM88 569h4v1h-4zM92 570h12v1h-12zM104 569h4v1h-4zM108 568h3v1h-3zM111 567h3v1h-3zM114 566h2v1h-2zM116 565h4v1h-4zM120 564h4v1h-4zM124 563h14v1h-14zM138 564h14v1h-14zM152 563h4v1h-4zM156 562h3v1h-3zM159 561h3v1h-3zM162 560h2v1h-2zM164 559h4v1h-4zM168 558h4v1h-4zM172 557h2v1h-2zM174 556h1v1h-1zM175 555h1v1h-1zM176 554h2v1h-2zM178 553h1v1h-1zM179 552h1v1h-1zM180 551h1v1h-1zM181 550h1v1h-1zM182 549h1v1h-1zM183 548h1v1h-1zM184 547h1v1h-1zM185 545h1v2h-1zM186 544h1v1h-1zM187 543h1v1h-1zM188 542h1v1h-1zM189 541h1v1h-1zM190 540h1v1h-1zM191 538h1v2h-1zM192 537h1v1h-1zM193 536h1v1h-1zM194 535h1v1h-1zM195 533h1v2h-1zM196 532h1v1h-1zM197 531h1v1h-1zM198 529h1v2h-1zM199 527h1v2h-1zM200 526h1v1h-1zM201 524h1v2h-1zM202 523h1v1h-1zM203 521h1v2h-1zM204 519h1v2h-1zM205 517h1v2h-1zM206 515h1v2h-1zM207 513h1v2h-1zM208 511h1v2h-1zM209 509h1v2h-1zM210 507h1v2h-1zM211 505h1v2h-1zM212 503h1v2h-1zM213 500h1v3h-1zM214 498h1v2h-1zM215 496h1v2h-1zM216 494h1v2h-1zM217 492h1v2h-1zM218 490h1v2h-1zM219 488h1v2h-1zM220 486h1v2h-1zM221 484h1v2h-1zM222 484h4v1h-4zM226 485h6v1h-6zM232 484h4v1h-4zM236 483h3v1h-3zM239 482h3v1h-3zM242 481h2v1h-2zM244 480h3v1h-3zM247 479h3v1h-3zM250 478h2v1h-2zM252 477h2v1h-2zM254 476h2v1h-2zM256 475h2v1h-2zM258 474h1v1h-1zM259 473h2v1h-2zM261 472h5v1h-5zM266 473h8v1h-8zM274 474h8v1h-8zM282 475h8v1h-8zM290 476h8v1h-8zM298 477h8v1h-8zM306 478h4v1h-4zM310 479h2v1h-2zM312 480h2v1h-2zM314 481h1v1h-1zM315 482h2v1h-2zM317 483h2v1h-2zM319 484h2v1h-2zM321 485h2v1h-2zM323 486h2v1h-2zM325 487h2v1h-2zM327 488h3v1h-3zM330 489h2v1h-2zM332 490h4v1h-4zM336 491h4v1h-4zM340 492h3v1h-3zM343 493h3v1h-3zM346 494h2v1h-2zM348 495h6v1h-6zM354 496h8v1h-8zM362 497h13v1h-13zM375 496h2v1h-2zM377 495h2v1h-2zM379 494h2v1h-2zM381 493h3v1h-3zM384 494h4v1h-4zM388 495h6v1h-6zM394 496h16v1h-16zM410 495h4v1h-4zM414 494h2v1h-2zM416 493h1v1h-1zM417 492h1v1h-1zM418 491h2v1h-2zM420 490h1v1h-1zM421 488h1v2h-1zM422 486h1v2h-1zM423 484h1v2h-1zM424 482h1v2h-1zM425 480h1v2h-1zM426 478h1v2h-1zM427 476h1v2h-1zM428 474h1v2h-1zM429 472h1v2h-1zM430 470h1v2h-1zM431 468h1v2h-1zM432 466h1v2h-1zM433 464h1v2h-1zM434 462h1v2h-1zM435 460h1v2h-1zM436 458h1v2h-1zM437 455h1v3h-1zM438 453h1v2h-1zM439 451h1v2h-1zM440 449h1v2h-1zM441 446h1v3h-1zM442 444h1v2h-1zM443 442h1v2h-1zM444 440h1v2h-1zM445 437h1v3h-1zM446 435h1v2h-1zM447 433h1v2h-1zM448 431h1v2h-1zM449 429h1v2h-1zM450 427h1v2h-1zM451 425h1v2h-1zM452 423h1v2h-1zM453 421h1v2h-1zM454 418h1v3h-1zM455 416h1v2h-1zM456 413h1v3h-1zM457 410h1v3h-1zM458 407h1v3h-1zM459 405h1v2h-1zM460 402h1v3h-1zM461 399h1v3h-1zM462 395h1v4h-1zM463 391h1v4h-1zM464 387h1v4h-1zM465 383h1v4h-1zM466 379h1v4h-1zM467 375h1v4h-1zM468 371h1v4h-1zM469 369h1v2h-1zM470 368h1v1h-1zM471 366h1v2h-1zM472 365h1v1h-1zM473 364h1v1h-1zM474 363h1v1h-1zM475 361h1v2h-1zM476 360h1v1h-1zM477 359h1v1h-1zM478 358h1v1h-1zM479 357h1v1h-1zM480 356h1v1h-1zM481 355h1v1h-1zM482 354h1v1h-1zM483 353h1v1h-1zM484 352h1v1h-1zM485 351h1v1h-1zM486 350h1v1h-1zM487 349h1v1h-1zM488 348h1v1h-1zM489 347h1v1h-1zM490 346h1v1h-1zM491 345h1v1h-1zM492 344h1v1h-1zM493 343h3v1h-3zM496 342h4v1h-4zM500 341h6v1h-6zM506 342h4v1h-4zM510 343h1v1h-1zM511 344h1v1h-1zM512 345h1v1h-1zM513 346h1v2h-1zM514 348h1v1h-1zM515 349h1v1h-1zM516 350h1v1h-1zM517 351h3v1h-3zM520 352h4v1h-4zM524 353h4v1h-4zM528 354h4v1h-4zM532 355h14v1h-14zM546 354h8v1h-8zM554 353h6v1h-6zM560 352h4v1h-4zM564 351h3v1h-3zM567 350h3v1h-3zM570 349h2v1h-2zM572 348h3v1h-3zM575 347h3v1h-3zM578 346h2v1h-2zM580 345h3v1h-3zM583 344h2v1h-2zM585 343h2v1h-2zM587 342h2v1h-2zM589 341h1v1h-1zM590 340h2v1h-2zM592 339h2v1h-2zM594 338h1v1h-1zM595 337h2v1h-2zM597 336h1v1h-1zM598 335h2v1h-2zM600 334h2v1h-2zM602 333h1v1h-1zM603 332h2v1h-2zM605 331h2v1h-2zM607 330h2v1h-2zM609 329h2v1h-2zM611 328h2v1h-2zM613 327h1v1h-1zM614 326h2v1h-2zM616 325h1v1h-1zM617 324h1v1h-1zM618 323h2v1h-2zM620 322h1v1h-1zM621 321h1v1h-1zM622 320h2v1h-2zM624 319h1v1h-1zM625 318h1v1h-1zM626 317h2v1h-2zM628 316h1v1h-1zM629 315h1v1h-1zM630 314h1v1h-1zM631 313h1v1h-1zM632 312h1v1h-1zM633 311h1v1h-1zM634 310h1v1h-1zM635 309h1v1h-1zM636 308h1v1h-1zM637 307h1v1h-1zM638 306h1v1h-1zM639 304h1v2h-1zM640 303h1v1h-1zM641 302h1v1h-1zM642 301h1v1h-1zM643 299h1v2h-1zM644 298h1v1h-1zM645 297h1v1h-1zM646 295h1v2h-1zM647 293h1v2h-1zM648 291h1v2h-1zM649 290h1v1h-1zM650 288h1v2h-1zM651 286h1v2h-1zM652 284h1v2h-1zM653 283h2v1h-2zM655 282h2v1h-2zM657 281h2v1h-2zM659 280h2v1h-2zM661 279h5v1h-5zM666 278h8v1h-8zM674 277h16v1h-16zM690 278h14v1h-14zM704 279h4v1h-4zM708 280h12v1h-12zM720 281h4v1h-4zM724 282h4v1h-4zM728 283h4v1h-4zM732 284h6v1h-6zM738 285h14v1h-14zM752 284h4v1h-4zM756 283h2v1h-2zM758 282h2v1h-2zM760 281h1v1h-1zM761 280h1v1h-1zM762 279h2v1h-2zM764 278h1v1h-1zM765 277h1v1h-1zM766 276h1v1h-1zM767 275h1v1h-1zM768 274h2v1h-2zM770 273h1v1h-1zM771 272h1v1h-1zM772 271h1v1h-1zM773 270h1v1h-1zM774 269h1v1h-1zM775 268h1v1h-1zM776 267h2v1h-2zM778 266h1v1h-1zM779 265h1v1h-1zM780 264h1v1h-1zM781 263h2v1h-2zM783 264h3v1h-3zM786 265h2v1h-2zM788 266h12v1h-12zM800 265h4v1h-4zM804 264h3v1h-3zM807 265h3v1h-3zM810 266h2v1h-2zM812 267h3v1h-3zM815 268h2v1h-2zM817 269h2v1h-2zM819 270h2v1h-2zM821 271h2v1h-2zM823 272h3v1h-3zM826 273h2v1h-2zM828 274h3v1h-3zM831 273h3v1h-3zM834 272h2v1h-2zM836 271h4v1h-4zM840 270h4v1h-4zM844 269h2v1h-2zM846 268h2v1h-2zM848 267h2v1h-2zM850 266h1v1h-1zM851 265h2v1h-2zM853 264h1v1h-1zM854 263h2v1h-2zM856 262h1v1h-1zM857 261h1v1h-1zM858 260h2v1h-2zM860 259h1v1h-1zM861 258h1v1h-1zM862 256h1v2h-1zM863 254h1v2h-1zM864 253h1v1h-1zM865 251h1v2h-1zM866 250h1v1h-1zM867 248h1v2h-1zM868 246h1v2h-1zM869 245h1v1h-1zM870 244h1v1h-1zM871 243h1v1h-1zM872 242h2v1h-2zM874 241h1v1h-1zM875 240h1v1h-1zM876 239h1v1h-1zM877 238h2v1h-2zM879 237h2v1h-2zM881 236h2v1h-2zM883 235h2v1h-2zM885 234h2v1h-2zM887 233h3v1h-3zM890 232h2v1h-2zM892 231h2v1h-2zM894 230h2v1h-2zM896 229h2v1h-2zM898 228h1v1h-1zM899 227h2v1h-2zM901 226h1v1h-1zM902 225h1v1h-1zM903 224h1v1h-1zM904 223h1v1h-1zM905 222h1v1h-1zM906 221h1v1h-1zM907 220h1v1h-1zM908 219h1v1h-1zM909 218h1v1h-1zM910 217h2v1h-2zM912 216h1v1h-1zM913 215h1v1h-1zM914 214h2v1h-2zM916 213h1v1h-1zM917 212h1v1h-1zM918 210h1v2h-1zM919 209h1v1h-1zM920 208h1v1h-1zM921 206h1v2h-1zM922 205h1v1h-1zM923 204h1v1h-1zM924 202h1v2h-1zM925 201h1v1h-1zM926 200h1v1h-1zM927 198h1v2h-1zM928 197h1v1h-1zM929 196h1v1h-1zM930 195h1v1h-1zM931 193h1v2h-1zM932 192h1v1h-1zM933 191h2v1h-2zM935 190h2v1h-2zM937 189h2v1h-2zM939 188h2v1h-2zM941 187h21v1h-21zM962 188h4v1h-4zM966 189h1v1h-1zM967 190h1v1h-1zM968 191h2v1h-2zM970 192h1v1h-1zM971 193h1v1h-1zM972 194h1v1h-1zM973 195h1v1h-1zM974 196h1v1h-1zM975 197h1v2h-1zM976 199h1v1h-1zM977 200h1v1h-1zM978 201h1v1h-1zM979 202h1v2h-1zM980 204h1v1h-1zM981 205h1v1h-1zM982 206h1v1h-1zM983 207h1v1h-1zM984 208h1v1h-1zM985 209h1v2h-1zM986 211h1v1h-1zM987 212h1v1h-1zM988 213h1v1h-1zM989 214h1v1h-1zM990 215h2v1h-2zM992 216h2v1h-2zM994 217h1v1h-1zM995 218h2v1h-2zM997 219h1v1h-1zM998 220h2v1h-2zM1000 221h1v1h-1zM1001 222h1v1h-1zM1002 223h2v1h-2zM1004 224h1v1h-1zM1005 225h2v1h-2zM1007 226h2v1h-2zM1009 227h2v1h-2zM1011 228h2v1h-2zM1013 229h3v1h-3zM1016 230h4v1h-4zM1020 231h3v1h-3zM1023 232h2v1h-2zM1025 233h2v1h-2zM1027 234h2v1h-2zM1029 235h5v1h-5zM1034 236h14v1h-14zM1048 235h4v1h-4zM1052 234h2v1h-2zM1054 233h2v1h-2zM1056 232h1v1h-1zM1057 231h1v1h-1zM1058 230h2v1h-2zM1060 229h1v1h-1zM1061 228h1v1h-1zM1062 226h1v2h-1zM1063 225h1v1h-1zM1064 223h1v2h-1zM1065 222h1v1h-1zM1066 220h1v2h-1zM1067 219h1v1h-1zM1068 217h1v2h-1zM1069 216h3v1h-3zM1072 215h4v1h-4zM1076 214h6v1h-6zM1082 215h5v1h-5zM1087 216h3v1h-3zM1090 217h2v1h-2zM1092 218h3v1h-3zM1095 219h2v1h-2zM1097 220h2v1h-2zM1099 221h2v1h-2zM1101 222h2v1h-2zM1103 223h3v1h-3zM1106 224h2v1h-2zM1108 225h4v1h-4zM1112 226h4v1h-4zM1116 227h2v1h-2zM1118 226h2v1h-2zM1120 225h2v1h-2zM1122 224h2v1h-2zM1124 223h1v1h-1zM1125 222h2v1h-2zM1127 221h2v1h-2zM1129 220h2v1h-2zM1131 219h1v1h-1zM1132 218h2v1h-2zM1134 217h2v1h-2zM1136 216h2v1h-2zM1138 215h1v1h-1zM1139 214h2v1h-2zM1141 213h2v1h-2zM1143 212h2v1h-2zM1145 211h1v1h-1zM1146 210h2v1h-2zM1148 209h2v1h-2zM1150 208h2v1h-2zM1152 207h1v1h-1zM1153 206h2v1h-2zM1155 205h2v1h-2zM1157 204h2v1h-2zM1159 203h1v1h-1zM1160 202h2v1h-2zM1162 201h2v1h-2zM1164 200h2v1h-2zM1166 199h1v1h-1zM1167 198h2v1h-2zM1169 197h2v1h-2zM1171 196h1v1h-1zM1172 195h2v1h-2zM1174 194h2v1h-2zM1176 193h2v1h-2zM1178 192h1v1h-1zM1179 191h2v1h-2zM1181 190h2v1h-2zM1183 189h2v1h-2zM1185 188h1v1h-1zM1186 187h2v1h-2zM1188 186h2v1h-2zM1190 185h2v1h-2zM1192 184h1v1h-1zM1193 183h2v1h-2zM1195 182h2v1h-2zM1197 181h2v1h-2zM1199 180h1v1h-1zM1200 179h2v1h-2zM1202 178h2v1h-2zM1204 177h2v1h-2zM1206 176h1v1h-1zM1207 175h2v1h-2zM1209 174h2v1h-2zM1211 173h2v1h-2zM1213 172h1v1h-1zM1214 171h2v1h-2zM1216 170h1v1h-1zM1217 169h1v1h-1zM1218 168h2v1h-2zM1220 167h1v1h-1zM1221 166h1v1h-1zM1222 164h1v2h-1zM1223 163h1v1h-1zM1224 162h1v1h-1zM1225 160h1v2h-1zM1226 159h1v1h-1zM1227 158h1v1h-1zM1228 156h1v2h-1zM1229 155h1v1h-1zM1230 154h1v1h-1zM1231 152h1v2h-1zM1232 151h1v1h-1zM1233 150h1v1h-1zM1234 149h1v1h-1zM1235 147h1v2h-1zM1236 146h1v1h-1zM1237 145h1v1h-1zM1238 144h2v1h-2zM1240 143h1v1h-1zM1241 142h1v1h-1zM1242 141h2v1h-2zM1244 140h1v1h-1zM1245 139h1v1h-1zM1246 138h1v1h-1zM1247 137h1v1h-1zM1248 136h2v1h-2zM1250 135h1v1h-1zM1251 134h1v1h-1zM1252 133h1v1h-1zM1253 132h1v1h-1zM1254 131h1v1h-1zM1255 130h1v1h-1zM1256 129h2v1h-2zM1258 128h1v1h-1zM1259 127h1v1h-1zM1260 126h1v1h-1zM1261 125h1v1h-1zM1262 124h1v1h-1zM1263 122h1v2h-1zM1264 121h1v1h-1zM1265 120h1v1h-1zM1266 119h1v1h-1zM1267 117h1v2h-1zM1268 116h1v1h-1zM1269 115h1v1h-1zM1270 114h2v1h-2zM1272 113h2v1h-2zM1274 112h1v1h-1zM1275 111h2v1h-2zM1277 110h1v1h-1zM1278 109h2v1h-2zM1280 108h2v1h-2zM1282 107h1v1h-1zM1283 106h2v1h-2zM1285 105h2v1h-2zM1287 104h2v1h-2zM1289 103h2v1h-2zM1291 102h2v1h-2zM1293 101h5v1h-5zM1298 100h8v1h-8zM1306 99h8v1h-8zM1314 98h4v1h-4z"/>
</g>
<g shape-rendering="crispEdges">
<rect x="5" y="503" width="1" height="24" fill="#000"/>
<rect x="3" y="511" width="5" height="10" fill="#000"/><rect x="4" y="512" width="3" height="8" fill="#fff"/>
<rect x="13" y="503" width="1" height="26" fill="#000"/>
<rect x="11" y="503" width="5" height="9" fill="#000"/><rect x="12" y="504" width="3" height="7" fill="#fff"/>
<rect x="21" y="496" width="1" height="68" fill="#000"/>
<rect x="19" y="503" width="5" height="32" fill="#000"/>
<rect x="29" y="525" width="1" height="43" fill="#000"/>
<rect x="27" y="534" width="5" height="3" fill="#000"/>
<rect x="37" y="518" width="1" height="26" fill="#000"/>
<rect x="35" y="536" width="5" height="3" fill="#000"/>
<rect x="45" y="526" width="1" height="16" fill="#000"/>
<rect x="43" y="533" width="5" height="7" fill="#000"/><rect x="44" y="534" width="3" height="5" fill="#fff"/>
<rect x="53" y="517" width="1" height="21" fill="#000"/>
<rect x="51" y="532" width="5" height="3" fill="#000"/>
<rect x="61" y="523" width="1" height="14" fill="#000"/>
<rect x="59" y="533" width="5" height="2" fill="#000"/>
<rect x="69" y="463" width="1" height="88" fill="#000"/>
<rect x="67" y="467" width="5" height="67" fill="#000"/><rect x="68" y="468" width="3" height="65" fill="#fff"/>
<rect x="77" y="465" width="1" height="29" fill="#000"/>
<rect x="75" y="466" width="5" height="21" fill="#000"/>
<rect x="85" y="481" width="1" height="8" fill="#000"/>
<rect x="83" y="486" width="5" height="2" fill="#000"/>
<rect x="93" y="469" width="1" height="5" fill="#000"/>
<rect x="91" y="471" width="5" height="1" fill="#000"/>
<rect x="101" y="464" width="1" height="11" fill="#000"/>
<rect x="99" y="467" width="5" height="6" fill="#000"/><rect x="100" y="468" width="3" height="4" fill="#fff"/>
<rect x="109" y="460" width="1" height="13" fill="#000"/>
<rect x="107" y="464" width="5" height="5" fill="#000"/><rect x="108" y="465" width="3" height="3" fill="#fff"/>
<rect x="117" y="452" width="1" height="19" fill="#000"/>
<rect x="115" y="453" width="5" height="13" fill="#000"/><rect x="116" y="454" width="3" height="11" fill="#fff"/>
<rect x="125" y="412" width="1" height="46" fill="#000"/>
<rect x="123" y="448" width="5" height="5" fill="#000"/><rect x="124" y="449" width="3" height="3" fill="#fff"/>
<rect x="133" y="431" width="1" height="30" fill="#000"/>
<rect x="131" y="440" width="5" height="8" fill="#000"/><rect x="132" y="441" width="3" height="6" fill="#fff"/>
<rect x="141" y="431" width="1" height="11" fill="#000"/>
<rect x="139" y="432" width="5" height="7" fill="#000"/><rect x="140" y="433" width="3" height="5" fill="#fff"/>
<rect x="149" y="426" width="1" height="13" fill="#000"/>
<rect x="147" y="433" width="5" height="3" fill="#000"/>
<rect x="157" y="433" width="1" height="7" fill="#000"/>
<rect x="155" y="436" width="5" height="1" fill="#000"/>
<rect x="165" y="434" width="1" height="25" fill="#000"/>
<rect x="163" y="435" width="5" height="18" fill="#000"/>
<rect x="173" y="415" width="1" height="49" fill="#000"/>
<rect x="171" y="449" width="5" height="3" fill="#000"/><rect x="172" y="450" width="3" height="1" fill="#fff"/>
<rect x="181" y="426" width="1" height="32" fill="#000"/>
<rect x="179" y="438" width="5" height="11" fill="#000"/><rect x="180" y="439" width="3" height="9" fill="#fff"/>
<rect x="189" y="429" width="1" height="13" fill="#000"/>
<rect x="187" y="437" width="5" height="1" fill="#000"/>
<rect x="197" y="434" width="1" height="15" fill="#000"/>
<rect x="195" y="435" width="5" height="11" fill="#000"/>
<rect x="205" y="440" width="1" height="10" fill="#000"/>
<rect x="203" y="441" width="5" height="6" fill="#000"/><rect x="204" y="442" width="3" height="4" fill="#fff"/>
<rect x="213" y="436" width="1" height="12" fill="#000"/>
<rect x="211" y="438" width="5" height="4" fill="#000"/><rect x="212" y="439" width="3" height="2" fill="#fff"/>
<rect x="221" y="433" width="1" height="40" fill="#000"/>
<rect x="219" y="439" width="5" height="17" fill="#000"/>
<rect x="229" y="402" width="1" height="61" fill="#000"/>
<rect x="227" y="409" width="5" height="48" fill="#000"/><rect x="228" y="410" width="3" height="46" fill="#fff"/>
<rect x="237" y="378" width="1" height="33" fill="#000"/>
<rect x="235" y="400" width="5" height="10" fill="#000"/><rect x="236" y="401" width="3" height="8" fill="#fff"/>
<rect x="245" y="394" width="1" height="16" fill="#000"/>
<rect x="243" y="400" width="5" height="1" fill="#000"/>
<rect x="253" y="397" width="1" height="11" fill="#000"/>
<rect x="251" y="398" width="5" height="3" fill="#000"/><rect x="252" y="399" width="3" height="1" fill="#fff"/>
<rect x="261" y="393" width="1" height="56" fill="#000"/>
<rect x="259" y="398" width="5" height="36" fill="#000"/>
<rect x="269" y="414" width="1" height="82" fill="#000"/>
<rect x="267" y="434" width="5" height="36" fill="#000"/>
<rect x="277" y="455" width="1" height="50" fill="#000"/>
<rect x="275" y="458" width="5" height="13" fill="#000"/><rect x="276" y="459" width="3" height="11" fill="#fff"/>
<rect x="285" y="451" width="1" height="16" fill="#000"/>
<rect x="283" y="458" width="5" height="5" fill="#000"/>
<rect x="293" y="437" width="1" height="26" fill="#000"/>
<rect x="291" y="440" width="5" height="21" fill="#000"/><rect x="292" y="441" width="3" height="19" fill="#fff"/>
<rect x="301" y="432" width="1" height="17" fill="#000"/>
<rect x="299" y="440" width="5" height="3" fill="#000"/>
<rect x="309" y="436" width="1" height="16" fill="#000"/>
<rect x="307" y="443" width="5" height="7" fill="#000"/>
<rect x="317" y="366" width="1" height="87" fill="#000"/>
<rect x="315" y="370" width="5" height="80" fill="#000"/><rect x="316" y="371" width="3" height="78" fill="#fff"/>
<rect x="325" y="359" width="1" height="26" fill="#000"/>
<rect x="323" y="359" width="5" height="11" fill="#000"/><rect x="324" y="360" width="3" height="9" fill="#fff"/>
<rect x="333" y="358" width="1" height="10" fill="#000"/>
<rect x="331" y="359" width="5" height="6" fill="#000"/>
<rect x="341" y="348" width="1" height="10" fill="#000"/>
<rect x="339" y="349" width="5" height="8" fill="#000"/><rect x="340" y="350" width="3" height="6" fill="#fff"/>
<rect x="349" y="337" width="1" height="18" fill="#000"/>
<rect x="347" y="341" width="5" height="10" fill="#000"/><rect x="348" y="342" width="3" height="8" fill="#fff"/>
<rect x="357" y="340" width="1" height="9" fill="#000"/>
<rect x="355" y="340" width="5" height="3" fill="#000"/><rect x="356" y="341" width="3" height="1" fill="#fff"/>
<rect x="365" y="315" width="1" height="32" fill="#000"/>
<rect x="363" y="322" width="5" height="20" fill="#000"/><rect x="364" y="323" width="3" height="18" fill="#fff"/>
<rect x="373" y="300" width="1" height="26" fill="#000"/>
<rect x="371" y="310" width="5" height="12" fill="#000"/><rect x="372" y="311" width="3" height="10" fill="#fff"/>
<rect x="381" y="305" width="1" height="25" fill="#000"/>
<rect x="379" y="311" width="5" height="13" fill="#000"/>
<rect x="389" y="294" width="1" height="44" fill="#000"/>
<rect x="387" y="301" width="5" height="21" fill="#000"/><rect x="388" y="302" width="3" height="19" fill="#fff"/>
<rect x="397" y="299" width="1" height="20" fill="#000"/>
<rect x="395" y="299" width="5" height="5" fill="#000"/><rect x="396" y="300" width="3" height="3" fill="#fff"/>
<rect x="405" y="298" width="1" height="15" fill="#000"/>
<rect x="403" y="299" width="5" height="5" fill="#000"/>
<rect x="413" y="293" width="1" height="17" fill="#000"/>
<rect x="411" y="301" width="5" height="3" fill="#000"/><rect x="412" y="302" width="3" height="1" fill="#fff"/>
<rect x="421" y="285" width="1" height="38" fill="#000"/>
<rect x="419" y="301" width="5" height="13" fill="#000"/>
<rect x="429" y="287" width="1" height="31" fill="#000"/>
<rect x="427" y="290" width="5" height="22" fill="#000"/><rect x="428" y="291" width="3" height="20" fill="#fff"/>
<rect x="437" y="288" width="1" height="26" fill="#000"/>
<rect x="435" y="290" width="5" height="18" fill="#000"/>
<rect x="445" y="306" width="1" height="15" fill="#000"/>
<rect x="443" y="308" width="5" height="6" fill="#000"/>
<rect x="453" y="305" width="1" height="12" fill="#000"/>
<rect x="451" y="310" width="5" height="4" fill="#000"/><rect x="452" y="311" width="3" height="2" fill="#fff"/>
<rect x="461" y="297" width="1" height="23" fill="#000"/>
<rect x="459" y="307" width="5" height="3" fill="#000"/><rect x="460" y="308" width="3" height="1" fill="#fff"/>
<rect x="469" y="293" width="1" height="31" fill="#000"/>
<rect x="467" y="307" width="5" height="6" fill="#000"/>
<rect x="477" y="294" width="1" height="43" fill="#000"/>
<rect x="475" y="309" width="5" height="4" fill="#000"/><rect x="476" y="310" width="3" height="2" fill="#fff"/>
<rect x="485" y="299" width="1" height="17" fill="#000"/>
<rect x="483" y="310" width="5" height="1" fill="#000"/>
<rect x="493" y="305" width="1" height="16" fill="#000"/>
<rect x="491" y="311" width="5" height="5" fill="#000"/>
<rect x="501" y="250" width="1" height="67" fill="#000"/>
<rect x="499" y="264" width="5" height="52" fill="#000"/><rect x="500" y="265" width="3" height="50" fill="#fff"/>
<rect x="509" y="251" width="1" height="18" fill="#000"/>
<rect x="507" y="260" width="5" height="6" fill="#000"/><rect x="508" y="261" width="3" height="4" fill="#fff"/>
<rect x="517" y="206" width="1" height="59" fill="#000"/>
<rect x="515" y="210" width="5" height="51" fill="#000"/><rect x="516" y="211" width="3" height="49" fill="#fff"/>
<rect x="525" y="202" width="1" height="41" fill="#000"/>
<rect x="523" y="211" width="5" height="19" fill="#000"/>
<rect x="533" y="219" width="1" height="32" fill="#000"/>
<rect x="531" y="221" width="5" height="9" fill="#000"/><rect x="532" y="222" width="3" height="7" fill="#fff"/>
<rect x="541" y="210" width="1" height="37" fill="#000"/>
<rect x="539" y="221" width="5" height="17" fill="#000"/>
<rect x="549" y="230" width="1" height="20" fill="#000"/>
<rect x="547" y="234" width="5" height="4" fill="#000"/><rect x="548" y="235" width="3" height="2" fill="#fff"/>
<rect x="557" y="224" width="1" height="14" fill="#000"/>
<rect x="555" y="227" width="5" height="8" fill="#000"/><rect x="556" y="228" width="3" height="6" fill="#fff"/>
<rect x="565" y="214" width="1" height="55" fill="#000"/>
<rect x="563" y="228" width="5" height="25" fill="#000"/>
<rect x="573" y="244" width="1" height="24" fill="#000"/>
<rect x="571" y="252" width="5" height="1" fill="#000"/>
<rect x="581" y="232" width="1" height="22" fill="#000"/>
<rect x="579" y="239" width="5" height="14" fill="#000"/><rect x="580" y="240" width="3" height="12" fill="#fff"/>
<rect x="589" y="233" width="1" height="9" fill="#000"/>
<rect x="587" y="239" width="5" height="3" fill="#000"/>
<rect x="597" y="240" width="1" height="27" fill="#000"/>
<rect x="595" y="241" width="5" height="23" fill="#000"/>
<rect x="605" y="262" width="1" height="22" fill="#000"/>
<rect x="603" y="263" width="5" height="13" fill="#000"/>
<rect x="613" y="261" width="1" height="22" fill="#000"/>
<rect x="611" y="274" width="5" height="1" fill="#000"/>
<rect x="621" y="262" width="1" height="31" fill="#000"/>
<rect x="619" y="273" width="5" height="1" fill="#000"/>
<rect x="629" y="224" width="1" height="56" fill="#000"/>
<rect x="627" y="231" width="5" height="44" fill="#000"/><rect x="628" y="232" width="3" height="42" fill="#fff"/>
<rect x="637" y="226" width="1" height="15" fill="#000"/>
<rect x="635" y="231" width="5" height="7" fill="#000"/>
<rect x="645" y="232" width="1" height="14" fill="#000"/>
<rect x="643" y="236" width="5" height="7" fill="#000"/>
<rect x="653" y="209" width="1" height="35" fill="#000"/>
<rect x="651" y="217" width="5" height="26" fill="#000"/><rect x="652" y="218" width="3" height="24" fill="#fff"/>
<rect x="661" y="215" width="1" height="21" fill="#000"/>
<rect x="659" y="218" width="5" height="7" fill="#000"/>
<rect x="669" y="205" width="1" height="32" fill="#000"/>
<rect x="667" y="214" width="5" height="11" fill="#000"/><rect x="668" y="215" width="3" height="9" fill="#fff"/>
<rect x="677" y="204" width="1" height="47" fill="#000"/>
<rect x="675" y="213" width="5" height="32" fill="#000"/>
<rect x="685" y="227" width="1" height="18" fill="#000"/>
<rect x="683" y="236" width="5" height="8" fill="#000"/><rect x="684" y="237" width="3" height="6" fill="#fff"/>
<rect x="693" y="235" width="1" height="19" fill="#000"/>
<rect x="691" y="237" width="5" height="14" fill="#000"/>
<rect x="701" y="242" width="1" height="14" fill="#000"/>
<rect x="699" y="244" width="5" height="7" fill="#000"/><rect x="700" y="245" width="3" height="5" fill="#fff"/>
<rect x="709" y="238" width="1" height="37" fill="#000"/>
<rect x="707" y="244" width="5" height="22" fill="#000"/>
<rect x="717" y="224" width="1" height="47" fill="#000"/>
<rect x="715" y="227" width="5" height="39" fill="#000"/><rect x="716" y="228" width="3" height="37" fill="#fff"/>
<rect x="725" y="193" width="1" height="44" fill="#000"/>
<rect x="723" y="201" width="5" height="26" fill="#000"/><rect x="724" y="202" width="3" height="24" fill="#fff"/>
<rect x="733" y="191" width="1" height="16" fill="#000"/>
<rect x="731" y="197" width="5" height="3" fill="#000"/><rect x="732" y="198" width="3" height="1" fill="#fff"/>
<rect x="741" y="179" width="1" height="34" fill="#000"/>
<rect x="739" y="198" width="5" height="8" fill="#000"/>
<rect x="749" y="194" width="1" height="23" fill="#000"/>
<rect x="747" y="204" width="5" height="1" fill="#000"/>
<rect x="757" y="191" width="1" height="26" fill="#000"/>
<rect x="755" y="202" width="5" height="2" fill="#000"/>
<rect x="765" y="195" width="1" height="21" fill="#000"/>
<rect x="763" y="202" width="5" height="13" fill="#000"/>
<rect x="773" y="200" width="1" height="37" fill="#000"/>
<rect x="771" y="205" width="5" height="10" fill="#000"/><rect x="772" y="206" width="3" height="8" fill="#fff"/>
<rect x="781" y="193" width="1" height="17" fill="#000"/>
<rect x="779" y="194" width="5" height="12" fill="#000"/><rect x="780" y="195" width="3" height="10" fill="#fff"/>
<rect x="789" y="158" width="1" height="41" fill="#000"/>
<rect x="787" y="167" width="5" height="28" fill="#000"/><rect x="788" y="168" width="3" height="26" fill="#fff"/>
<rect x="797" y="162" width="1" height="10" fill="#000"/>
<rect x="795" y="167" width="5" height="5" fill="#000"/>
<rect x="805" y="167" width="1" height="15" fill="#000"/>
<rect x="803" y="170" width="5" height="7" fill="#000"/>
<rect x="813" y="153" width="1" height="25" fill="#000"/>
<rect x="811" y="157" width="5" height="20" fill="#000"/><rect x="812" y="158" width="3" height="18" fill="#fff"/>
<rect x="821" y="132" width="1" height="26" fill="#000"/>
<rect x="819" y="133" width="5" height="24" fill="#000"/><rect x="820" y="134" width="3" height="22" fill="#fff"/>
<rect x="829" y="123" width="1" height="19" fill="#000"/>
<rect x="827" y="130" width="5" height="3" fill="#000"/><rect x="828" y="131" width="3" height="1" fill="#fff"/>
<rect x="837" y="125" width="1" height="13" fill="#000"/>
<rect x="835" y="126" width="5" height="10" fill="#000"/>
<rect x="845" y="124" width="1" height="15" fill="#000"/>
<rect x="843" y="128" width="5" height="8" fill="#000"/><rect x="844" y="129" width="3" height="6" fill="#fff"/>
<rect x="853" y="93" width="1" height="40" fill="#000"/>
<rect x="851" y="105" width="5" height="25" fill="#000"/><rect x="852" y="106" width="3" height="23" fill="#fff"/>
<rect x="861" y="99" width="1" height="13" fill="#000"/>
<rect x="859" y="104" width="5" height="2" fill="#000"/>
<rect x="869" y="97" width="1" height="39" fill="#000"/>
<rect x="867" y="104" width="5" height="21" fill="#000"/>
<rect x="877" y="109" width="1" height="22" fill="#000"/>
<rect x="875" y="113" width="5" height="11" fill="#000"/><rect x="876" y="114" width="3" height="9" fill="#fff"/>
<rect x="885" y="107" width="1" height="14" fill="#000"/>
<rect x="883" y="113" width="5" height="3" fill="#000"/>
<rect x="893" y="98" width="1" height="29" fill="#000"/>
<rect x="891" y="108" width="5" height="8" fill="#000"/><rect x="892" y="109" width="3" height="6" fill="#fff"/>
<rect x="901" y="93" width="1" height="15" fill="#000"/>
<rect x="899" y="100" width="5" height="7" fill="#000"/><rect x="900" y="101" width="3" height="5" fill="#fff"/>
<rect x="909" y="69" width="1" height="32" fill="#000"/>
<rect x="907" y="94" width="5" height="6" fill="#000"/><rect x="908" y="95" width="3" height="4" fill="#fff"/>
<rect x="917" y="92" width="1" height="65" fill="#000"/>
<rect x="915" y="95" width="5" height="57" fill="#000"/>
<rect x="925" y="121" width="1" height="40" fill="#000"/>
<rect x="923" y="146" width="5" height="7" fill="#000"/><rect x="924" y="147" width="3" height="5" fill="#fff"/>
<rect x="933" y="137" width="1" height="34" fill="#000"/>
<rect x="931" y="146" width="5" height="22" fill="#000"/>
<rect x="941" y="154" width="1" height="23" fill="#000"/>
<rect x="939" y="165" width="5" height="4" fill="#000"/>
<rect x="949" y="156" width="1" height="20" fill="#000"/>
<rect x="947" y="168" width="5" height="3" fill="#000"/>
<rect x="957" y="169" width="1" height="25" fill="#000"/>
<rect x="955" y="171" width="5" height="5" fill="#000"/>
<rect x="965" y="160" width="1" height="24" fill="#000"/>
<rect x="963" y="173" width="5" height="1" fill="#000"/>
<rect x="973" y="167" width="1" height="67" fill="#000"/>
<rect x="971" y="172" width="5" height="25" fill="#000"/>
<rect x="981" y="178" width="1" height="48" fill="#000"/>
<rect x="979" y="196" width="5" height="5" fill="#000"/>
<rect x="989" y="184" width="1" height="47" fill="#000"/>
<rect x="987" y="197" width="5" height="3" fill="#000"/><rect x="988" y="198" width="3" height="1" fill="#fff"/>
<rect x="997" y="183" width="1" height="23" fill="#000"/>
<rect x="995" y="198" width="5" height="3" fill="#000"/>
<rect x="1005" y="170" width="1" height="43" fill="#000"/>
<rect x="1003" y="183" width="5" height="17" fill="#000"/><rect x="1004" y="184" width="3" height="15" fill="#fff"/>
<rect x="1013" y="165" width="1" height="56" fill="#000"/>
<rect x="1011" y="183" width="5" height="25" fill="#000"/>
<rect x="1021" y="181" width="1" height="35" fill="#000"/>
<rect x="1019" y="186" width="5" height="21" fill="#000"/><rect x="1020" y="187" width="3" height="19" fill="#fff"/>
<rect x="1029" y="184" width="1" height="27" fill="#000"/>
<rect x="1027" y="186" width="5" height="19" fill="#000"/>
<rect x="1037" y="182" width="1" height="26" fill="#000"/>
<rect x="1035" y="186" width="5" height="19" fill="#000"/><rect x="1036" y="187" width="3" height="17" fill="#fff"/>
<rect x="1045" y="182" width="1" height="12" fill="#000"/>
<rect x="1043" y="186" width="5" height="5" fill="#000"/>
<rect x="1053" y="167" width="1" height="30" fill="#000"/>
<rect x="1051" y="186" width="5" height="4" fill="#000"/><rect x="1052" y="187" width="3" height="2" fill="#fff"/>
<rect x="1061" y="166" width="1" height="27" fill="#000"/>
<rect x="1059" y="186" width="5" height="1" fill="#000"/>
<rect x="1069" y="157" width="1" height="43" fill="#000"/>
<rect x="1067" y="164" width="5" height="24" fill="#000"/><rect x="1068" y="165" width="3" height="22" fill="#fff"/>
<rect x="1077" y="159" width="1" height="20" fill="#000"/>
<rect x="1075" y="159" width="5" height="6" fill="#000"/><rect x="1076" y="160" width="3" height="4" fill="#fff"/>
<rect x="1085" y="138" width="1" height="8" fill="#000"/>
<rect x="1083" y="138" width="5" height="7" fill="#000"/><rect x="1084" y="139" width="3" height="5" fill="#fff"/>
<rect x="1093" y="129" width="1" height="11" fill="#000"/>
<rect x="1091" y="135" width="5" height="4" fill="#000"/><rect x="1092" y="136" width="3" height="2" fill="#fff"/>
<rect x="1101" y="130" width="1" height="10" fill="#000"/>
<rect x="1099" y="134" width="5" height="3" fill="#000"/>
<rect x="1109" y="131" width="1" height="8" fill="#000"/>
<rect x="1107" y="135" width="5" height="1" fill="#000"/>
<rect x="1117" y="111" width="1" height="30" fill="#000"/>
<rect x="1115" y="120" width="5" height="16" fill="#000"/><rect x="1116" y="121" width="3" height="14" fill="#fff"/>
<rect x="1125" y="113" width="1" height="16" fill="#000"/>
<rect x="1123" y="115" width="5" height="5" fill="#000"/><rect x="1124" y="116" width="3" height="3" fill="#fff"/>
<rect x="1133" y="98" width="1" height="18" fill="#000"/>
<rect x="1131" y="99" width="5" height="17" fill="#000"/><rect x="1132" y="100" width="3" height="15" fill="#fff"/>
<rect x="1141" y="62" width="1" height="41" fill="#000"/>
<rect x="1139" y="94" width="5" height="5" fill="#000"/><rect x="1140" y="95" width="3" height="3" fill="#fff"/>
<rect x="1149" y="89" width="1" height="11" fill="#000"/>
<rect x="1147" y="94" width="5" height="3" fill="#000"/>
<rect x="1157" y="93" width="1" height="21" fill="#000"/>
<rect x="1155" y="95" width="5" height="6" fill="#000"/>
<rect x="1165" y="83" width="1" height="23" fill="#000"/>
<rect x="1163" y="87" width="5" height="15" fill="#000"/><rect x="1164" y="88" width="3" height="13" fill="#fff"/>
<rect x="1173" y="78" width="1" height="18" fill="#000"/>
<rect x="1171" y="87" width="5" height="1" fill="#000"/>
<rect x="1181" y="66" width="1" height="27" fill="#000"/>
<rect x="1179" y="73" width="5" height="14" fill="#000"/><rect x="1180" y="74" width="3" height="12" fill="#fff"/>
<rect x="1189" y="65" width="1" height="13" fill="#000"/>
<rect x="1187" y="68" width="5" height="6" fill="#000"/><rect x="1188" y="69" width="3" height="4" fill="#fff"/>
<rect x="1197" y="61" width="1" height="12" fill="#000"/>
<rect x="1195" y="63" width="5" height="6" fill="#000"/><rect x="1196" y="64" width="3" height="4" fill="#fff"/>
<rect x="1205" y="54" width="1" height="18" fill="#000"/>
<rect x="1203" y="63" width="5" height="5" fill="#000"/>
<rect x="1213" y="65" width="1" height="29" fill="#000"/>
<rect x="1211" y="67" width="5" height="15" fill="#000"/>
<rect x="1221" y="63" width="1" height="24" fill="#000"/>
<rect x="1219" y="66" width="5" height="17" fill="#000"/><rect x="1220" y="67" width="3" height="15" fill="#fff"/>
<rect x="1229" y="60" width="1" height="32" fill="#000"/>
<rect x="1227" y="66" width="5" height="23" fill="#000"/>
<rect x="1237" y="81" width="1" height="20" fill="#000"/>
<rect x="1235" y="88" width="5" height="1" fill="#000"/>
<rect x="1245" y="85" width="1" height="11" fill="#000"/>
<rect x="1243" y="87" width="5" height="3" fill="#000"/>
<rect x="1253" y="85" width="1" height="16" fill="#000"/>
<rect x="1251" y="87" width="5" height="3" fill="#000"/><rect x="1252" y="88" width="3" height="1" fill="#fff"/>
<rect x="1261" y="79" width="1" height="12" fill="#000"/>
<rect x="1259" y="81" width="5" height="7" fill="#000"/><rect x="1260" y="82" width="3" height="5" fill="#fff"/>
<rect x="1269" y="73" width="1" height="10" fill="#000"/>
<rect x="1267" y="78" width="5" height="4" fill="#000"/><rect x="1268" y="79" width="3" height="2" fill="#fff"/>
<rect x="1277" y="72" width="1" height="6" fill="#000"/>
<rect x="1275" y="73" width="5" height="3" fill="#000"/><rect x="1276" y="74" width="3" height="1" fill="#fff"/>
<rect x="1285" y="73" width="1" height="20" fill="#000"/>
<rect x="1283" y="73" width="5" height="16" fill="#000"/>
<rect x="1293" y="88" width="1" height="13" fill="#000"/>
<rect x="1291" y="88" width="5" height="4" fill="#000"/>
<rect x="1301" y="79" width="1" height="22" fill="#000"/>
<rect x="1299" y="80" width="5" height="13" fill="#000"/><rect x="1300" y="81" width="3" height="11" fill="#fff"/>
<rect x="1309" y="74" width="1" height="19" fill="#000"/>
<rect x="1307" y="81" width="5" height="1" fill="#000"/>
<rect x="1317" y="80" width="1" height="21" fill="#000"/>
<rect x="1315" y="81" width="5" height="10" fill="#000"/>
</g>
<rect x="1215" y="98" width="110" height="9" fill="#00ee00" shape-rendering="crispEdges"/>
<rect x="1398" y="101" width="10" height="1" fill="#ff0000" shape-rendering="crispEdges"/>
<rect x="1408.5" y="85.5" width="99" height="32" fill="#fff" stroke="#ff0000" stroke-width="1" shape-rendering="crispEdges"/>
<text x="1410" y="111.6" font-size="29" fill="#ff0000" textLength="96.5" lengthAdjust="spacingAndGlyphs">28033.8</text>
<text x="1390.6" y="174.8" font-size="32" font-weight="bold" fill="#102810" textLength="160" lengthAdjust="spacingAndGlyphs" style="font-family:'Liberation Serif','Noto Serif CJK SC',serif">多空转折点</text>
<text x="1389.6" y="173.8" font-size="32" font-weight="bold" fill="#14f014" textLength="160" lengthAdjust="spacingAndGlyphs" style="font-family:'Liberation Serif','Noto Serif CJK SC',serif">多空转折点</text>
<rect x="1619" y="31" width="6" height="6" fill="#ff0000" shape-rendering="crispEdges"/><rect x="1621" y="33" width="2" height="2" fill="#fff" shape-rendering="crispEdges"/>
<rect x="1619" y="57" width="6" height="6" fill="#ff0000" shape-rendering="crispEdges"/><rect x="1621" y="59" width="2" height="2" fill="#fff" shape-rendering="crispEdges"/>
<rect x="1626" y="49" width="2" height="1" fill="#000" shape-rendering="crispEdges"/>
<rect x="1626" y="82" width="2" height="1" fill="#000" shape-rendering="crispEdges"/>
<rect x="1626" y="115" width="2" height="1" fill="#000" shape-rendering="crispEdges"/>
<rect x="1626" y="148" width="2" height="1" fill="#000" shape-rendering="crispEdges"/>
<rect x="1626" y="181" width="2" height="1" fill="#000" shape-rendering="crispEdges"/>
<rect x="1626" y="214" width="2" height="1" fill="#000" shape-rendering="crispEdges"/>
<rect x="1626" y="247" width="2" height="1" fill="#000" shape-rendering="crispEdges"/>
<rect x="1626" y="280" width="2" height="1" fill="#000" shape-rendering="crispEdges"/>
<rect x="1626" y="313" width="2" height="1" fill="#000" shape-rendering="crispEdges"/>
<rect x="1626" y="346" width="2" height="1" fill="#000" shape-rendering="crispEdges"/>
<rect x="1626" y="379" width="2" height="1" fill="#000" shape-rendering="crispEdges"/>
<rect x="1626" y="412" width="2" height="1" fill="#000" shape-rendering="crispEdges"/>
<rect x="1626" y="445" width="2" height="1" fill="#000" shape-rendering="crispEdges"/>
<rect x="1626" y="478" width="2" height="1" fill="#000" shape-rendering="crispEdges"/>
<rect x="1626" y="511" width="2" height="1" fill="#000" shape-rendering="crispEdges"/>
<rect x="1626" y="544" width="2" height="1" fill="#000" shape-rendering="crispEdges"/>
<rect x="1626" y="577" width="2" height="1" fill="#000" shape-rendering="crispEdges"/>
<text class="ax" x="1631.1" y="52.2" textLength="32.5" lengthAdjust="spacingAndGlyphs">28184.5</text>
<text class="ax" x="1631.1" y="85.2" textLength="32.5" lengthAdjust="spacingAndGlyphs">28087.0</text>
<text class="ax" x="1631.1" y="118.2" textLength="32.5" lengthAdjust="spacingAndGlyphs">27992.0</text>
<text class="ax" x="1631.1" y="151.2" textLength="32.5" lengthAdjust="spacingAndGlyphs">27894.5</text>
<text class="ax" x="1631.1" y="184.2" textLength="32.5" lengthAdjust="spacingAndGlyphs">27797.0</text>
<text class="ax" x="1631.1" y="217.2" textLength="32.5" lengthAdjust="spacingAndGlyphs">27699.5</text>
<text class="ax" x="1631.1" y="250.2" textLength="32.5" lengthAdjust="spacingAndGlyphs">27602.0</text>
<text class="ax" x="1631.1" y="283.2" textLength="32.5" lengthAdjust="spacingAndGlyphs">27504.5</text>
<text class="ax" x="1631.1" y="316.2" textLength="32.5" lengthAdjust="spacingAndGlyphs">27407.0</text>
<text class="ax" x="1631.1" y="349.2" textLength="32.5" lengthAdjust="spacingAndGlyphs">27309.5</text>
<text class="ax" x="1631.1" y="382.2" textLength="32.5" lengthAdjust="spacingAndGlyphs">27212.0</text>
<text class="ax" x="1631.1" y="415.2" textLength="32.5" lengthAdjust="spacingAndGlyphs">27114.5</text>
<text class="ax" x="1631.1" y="448.2" textLength="32.5" lengthAdjust="spacingAndGlyphs">27017.0</text>
<text class="ax" x="1631.1" y="481.2" textLength="32.5" lengthAdjust="spacingAndGlyphs">26922.0</text>
<text class="ax" x="1631.1" y="514.2" textLength="32.5" lengthAdjust="spacingAndGlyphs">26824.5</text>
<text class="ax" x="1631.1" y="547.2" textLength="32.5" lengthAdjust="spacingAndGlyphs">26727.0</text>
<text class="ax" x="1631.1" y="580.2" textLength="32.5" lengthAdjust="spacingAndGlyphs">26629.5</text>
<rect x="1627" y="28" width="41" height="11" fill="#ff0000" shape-rendering="crispEdges"/>
<text class="ax" x="1631.1" y="36.5" textLength="32.5" lengthAdjust="spacingAndGlyphs" style="fill:#fff">28228.3</text>
<rect x="1627" y="54" width="41" height="11" fill="#ff0000" shape-rendering="crispEdges"/>
<text class="ax" x="1631.1" y="62.5" textLength="32.5" lengthAdjust="spacingAndGlyphs" style="fill:#fff">28151.9</text>
<rect x="1627" y="95" width="41" height="11" fill="#32cd32" shape-rendering="crispEdges"/>
<text class="ax" x="1631.1" y="103.5" textLength="32.5" lengthAdjust="spacingAndGlyphs" style="fill:#fff">28033.8</text>
<rect x="1627" y="85" width="41" height="10" fill="#000000" shape-rendering="crispEdges"/>
<text class="ax" x="1631.1" y="93.0" textLength="32.5" lengthAdjust="spacingAndGlyphs" style="fill:#fff">28064.0</text>
<rect x="1627" y="118" width="41" height="11" fill="#0000ff" shape-rendering="crispEdges"/>
<text class="ax" x="1631.1" y="126.5" textLength="32.5" lengthAdjust="spacingAndGlyphs" style="fill:#fff">27965.8</text>
<rect x="1627" y="134" width="41" height="11" fill="#0000ff" shape-rendering="crispEdges"/>
<text class="ax" x="1631.1" y="142.5" textLength="32.5" lengthAdjust="spacingAndGlyphs" style="fill:#fff">27916.4</text>
<path d="M3 34h1v1h1v1h1v1h1v1h-7v-1h1v-1h1v-1h1z" fill="#000" shape-rendering="crispEdges"/><rect x="0" y="31" width="2" height="2" fill="#ff0000"/>
<text class="ax" x="12.5" y="39" textLength="185.5" lengthAdjust="spacingAndGlyphs">DJ30-,H4&#160; 28090.0 28095.0 28039.0 28064.0</text>
<rect x="0" y="71" width="109" height="40" fill="#b40404" shape-rendering="crispEdges"/><rect x="1" y="72" width="107" height="38" fill="url(#gsellB)" shape-rendering="crispEdges"/>
<rect x="111" y="71" width="108" height="40" fill="#b40404" shape-rendering="crispEdges"/><rect x="112" y="72" width="106" height="38" fill="url(#gsellB)" shape-rendering="crispEdges"/>
<rect x="0" y="47" width="52" height="25" fill="#b40404" shape-rendering="crispEdges"/><rect x="1" y="48" width="50" height="23" fill="url(#gsellT)" shape-rendering="crispEdges"/>
<rect x="167" y="47" width="52" height="25" fill="#b40404" shape-rendering="crispEdges"/><rect x="168" y="48" width="50" height="23" fill="url(#gsellT)" shape-rendering="crispEdges"/>
<rect x="1" y="71" width="50" height="1" fill="#e23a3a" shape-rendering="crispEdges"/><rect x="168" y="71" width="50" height="1" fill="#e23a3a" shape-rendering="crispEdges"/>
<rect x="4" y="70" width="44" height="1" fill="#a00000" shape-rendering="crispEdges"/><rect x="4" y="71" width="44" height="1" fill="#f49090" shape-rendering="crispEdges"/>
<rect x="171" y="70" width="44" height="1" fill="#a00000" shape-rendering="crispEdges"/><rect x="171" y="71" width="44" height="1" fill="#f49090" shape-rendering="crispEdges"/>
<rect x="52" y="47" width="115" height="24" fill="#fff" shape-rendering="crispEdges"/>
<rect x="54" y="47" width="111" height="22" fill="#adb2b8" shape-rendering="crispEdges"/><rect x="55" y="48" width="109" height="20" fill="#fff" shape-rendering="crispEdges"/>
<rect x="55" y="48" width="20" height="20" fill="url(#gbtn)" shape-rendering="crispEdges"/><rect x="144" y="48" width="20" height="20" fill="url(#gbtn)" shape-rendering="crispEdges"/>
<rect x="75" y="48" width="1" height="20" fill="#adb2b8" shape-rendering="crispEdges"/><rect x="143" y="48" width="1" height="20" fill="#adb2b8" shape-rendering="crispEdges"/>
<path d="M62 56h5.400l-2.700 3z" fill="#000"/><path d="M151 59h5.400l-2.700-3z" fill="#000"/>
<text x="140" y="62" font-size="12.5" fill="#1a1a1a" text-anchor="end">1.00</text>
<text x="12.1" y="63" font-size="12.5" fill="#ffecec" textLength="25.7" lengthAdjust="spacingAndGlyphs">SELL</text>
<text x="180.5" y="63" font-size="12.5" fill="#ffecec" textLength="22.8" lengthAdjust="spacingAndGlyphs">BUY</text>
<text x="16" y="102" font-size="12.4" font-weight="bold" fill="#fff">28062</text>
<text x="126.300" y="102" font-size="12.4" font-weight="bold" fill="#fff">28072</text>
<text x="53.300" y="102.2" font-size="32" fill="#fff" textLength="24.5" lengthAdjust="spacingAndGlyphs">.5</text>
<text x="164.500" y="102.2" font-size="32" fill="#fff" textLength="24.5" lengthAdjust="spacingAndGlyphs">.5</text>
<g shape-rendering="crispEdges">
<rect x="5" y="724" width="1" height="12" fill="#c0c0c0"/>
<rect x="13" y="724" width="1" height="6" fill="#c0c0c0"/>
<rect x="21" y="724" width="1" height="9" fill="#c0c0c0"/>
<rect x="29" y="724" width="1" height="12" fill="#c0c0c0"/>
<rect x="37" y="724" width="1" height="14" fill="#c0c0c0"/>
<rect x="45" y="724" width="1" height="15" fill="#c0c0c0"/>
<rect x="53" y="724" width="1" height="14" fill="#c0c0c0"/>
<rect x="61" y="724" width="1" height="15" fill="#c0c0c0"/>
<rect x="69" y="722" width="1" height="3" fill="#c0c0c0"/>
<rect x="77" y="713" width="1" height="12" fill="#c0c0c0"/>
<rect x="85" y="706" width="1" height="19" fill="#c0c0c0"/>
<rect x="93" y="697" width="1" height="28" fill="#c0c0c0"/>
<rect x="101" y="689" width="1" height="36" fill="#c0c0c0"/>
<rect x="109" y="682" width="1" height="43" fill="#c0c0c0"/>
<rect x="117" y="674" width="1" height="51" fill="#c0c0c0"/>
<rect x="125" y="667" width="1" height="58" fill="#c0c0c0"/>
<rect x="133" y="660" width="1" height="65" fill="#c0c0c0"/>
<rect x="141" y="654" width="1" height="71" fill="#c0c0c0"/>
<rect x="149" y="650" width="1" height="75" fill="#c0c0c0"/>
<rect x="157" y="648" width="1" height="77" fill="#c0c0c0"/>
<rect x="165" y="652" width="1" height="73" fill="#c0c0c0"/>
<rect x="173" y="655" width="1" height="70" fill="#c0c0c0"/>
<rect x="181" y="655" width="1" height="70" fill="#c0c0c0"/>
<rect x="189" y="656" width="1" height="69" fill="#c0c0c0"/>
<rect x="197" y="659" width="1" height="66" fill="#c0c0c0"/>
<rect x="205" y="662" width="1" height="63" fill="#c0c0c0"/>
<rect x="213" y="663" width="1" height="62" fill="#c0c0c0"/>
<rect x="221" y="670" width="1" height="55" fill="#c0c0c0"/>
<rect x="229" y="663" width="1" height="62" fill="#c0c0c0"/>
<rect x="237" y="657" width="1" height="68" fill="#c0c0c0"/>
<rect x="245" y="652" width="1" height="73" fill="#c0c0c0"/>
<rect x="253" y="649" width="1" height="76" fill="#c0c0c0"/>
<rect x="261" y="656" width="1" height="69" fill="#c0c0c0"/>
<rect x="269" y="673" width="1" height="52" fill="#c0c0c0"/>
<rect x="277" y="684" width="1" height="41" fill="#c0c0c0"/>
<rect x="285" y="693" width="1" height="32" fill="#c0c0c0"/>
<rect x="293" y="695" width="1" height="30" fill="#c0c0c0"/>
<rect x="301" y="698" width="1" height="27" fill="#c0c0c0"/>
<rect x="309" y="702" width="1" height="23" fill="#c0c0c0"/>
<rect x="317" y="684" width="1" height="41" fill="#c0c0c0"/>
<rect x="325" y="668" width="1" height="57" fill="#c0c0c0"/>
<rect x="333" y="657" width="1" height="68" fill="#c0c0c0"/>
<rect x="341" y="645" width="1" height="80" fill="#c0c0c0"/>
<rect x="349" y="634" width="1" height="91" fill="#c0c0c0"/>
<rect x="357" y="627" width="1" height="98" fill="#c0c0c0"/>
<rect x="365" y="617" width="1" height="108" fill="#c0c0c0"/>
<rect x="373" y="607" width="1" height="118" fill="#c0c0c0"/>
<rect x="381" y="605" width="1" height="120" fill="#c0c0c0"/>
<rect x="389" y="598" width="1" height="127" fill="#c0c0c0"/>
<rect x="397" y="594" width="1" height="131" fill="#c0c0c0"/>
<rect x="405" y="593" width="1" height="132" fill="#c0c0c0"/>
<rect x="413" y="593" width="1" height="132" fill="#c0c0c0"/>
<rect x="421" y="598" width="1" height="127" fill="#c0c0c0"/>
<rect x="429" y="597" width="1" height="128" fill="#c0c0c0"/>
<rect x="437" y="602" width="1" height="123" fill="#c0c0c0"/>
<rect x="445" y="610" width="1" height="115" fill="#c0c0c0"/>
<rect x="453" y="616" width="1" height="109" fill="#c0c0c0"/>
<rect x="461" y="621" width="1" height="104" fill="#c0c0c0"/>
<rect x="469" y="628" width="1" height="97" fill="#c0c0c0"/>
<rect x="477" y="634" width="1" height="91" fill="#c0c0c0"/>
<rect x="485" y="639" width="1" height="86" fill="#c0c0c0"/>
<rect x="493" y="646" width="1" height="79" fill="#c0c0c0"/>
<rect x="501" y="638" width="1" height="87" fill="#c0c0c0"/>
<rect x="509" y="632" width="1" height="93" fill="#c0c0c0"/>
<rect x="517" y="615" width="1" height="110" fill="#c0c0c0"/>
<rect x="525" y="607" width="1" height="118" fill="#c0c0c0"/>
<rect x="533" y="601" width="1" height="124" fill="#c0c0c0"/>
<rect x="541" y="601" width="1" height="124" fill="#c0c0c0"/>
<rect x="549" y="603" width="1" height="122" fill="#c0c0c0"/>
<rect x="557" y="603" width="1" height="122" fill="#c0c0c0"/>
<rect x="565" y="612" width="1" height="113" fill="#c0c0c0"/>
<rect x="573" y="619" width="1" height="106" fill="#c0c0c0"/>
<rect x="581" y="623" width="1" height="102" fill="#c0c0c0"/>
<rect x="589" y="628" width="1" height="97" fill="#c0c0c0"/>
<rect x="597" y="639" width="1" height="86" fill="#c0c0c0"/>
<rect x="605" y="651" width="1" height="74" fill="#c0c0c0"/>
<rect x="613" y="662" width="1" height="63" fill="#c0c0c0"/>
<rect x="621" y="671" width="1" height="54" fill="#c0c0c0"/>
<rect x="629" y="667" width="1" height="58" fill="#c0c0c0"/>
<rect x="637" y="666" width="1" height="59" fill="#c0c0c0"/>
<rect x="645" y="667" width="1" height="58" fill="#c0c0c0"/>
<rect x="653" y="662" width="1" height="63" fill="#c0c0c0"/>
<rect x="661" y="660" width="1" height="65" fill="#c0c0c0"/>
<rect x="669" y="658" width="1" height="67" fill="#c0c0c0"/>
<rect x="677" y="664" width="1" height="61" fill="#c0c0c0"/>
<rect x="685" y="668" width="1" height="57" fill="#c0c0c0"/>
<rect x="693" y="675" width="1" height="50" fill="#c0c0c0"/>
<rect x="701" y="680" width="1" height="45" fill="#c0c0c0"/>
<rect x="709" y="690" width="1" height="35" fill="#c0c0c0"/>
<rect x="717" y="688" width="1" height="37" fill="#c0c0c0"/>
<rect x="725" y="679" width="1" height="46" fill="#c0c0c0"/>
<rect x="733" y="672" width="1" height="53" fill="#c0c0c0"/>
<rect x="741" y="668" width="1" height="57" fill="#c0c0c0"/>
<rect x="749" y="667" width="1" height="58" fill="#c0c0c0"/>
<rect x="757" y="666" width="1" height="59" fill="#c0c0c0"/>
<rect x="765" y="668" width="1" height="57" fill="#c0c0c0"/>
<rect x="773" y="668" width="1" height="57" fill="#c0c0c0"/>
<rect x="781" y="667" width="1" height="58" fill="#c0c0c0"/>
<rect x="789" y="659" width="1" height="66" fill="#c0c0c0"/>
<rect x="797" y="654" width="1" height="71" fill="#c0c0c0"/>
<rect x="805" y="653" width="1" height="72" fill="#c0c0c0"/>
<rect x="813" y="647" width="1" height="78" fill="#c0c0c0"/>
<rect x="821" y="637" width="1" height="88" fill="#c0c0c0"/>
<rect x="829" y="630" width="1" height="95" fill="#c0c0c0"/>
<rect x="837" y="626" width="1" height="99" fill="#c0c0c0"/>
<rect x="845" y="623" width="1" height="102" fill="#c0c0c0"/>
<rect x="853" y="615" width="1" height="110" fill="#c0c0c0"/>
<rect x="861" y="610" width="1" height="115" fill="#c0c0c0"/>
<rect x="869" y="612" width="1" height="113" fill="#c0c0c0"/>
<rect x="877" y="613" width="1" height="112" fill="#c0c0c0"/>
<rect x="885" y="615" width="1" height="110" fill="#c0c0c0"/>
<rect x="893" y="616" width="1" height="109" fill="#c0c0c0"/>
<rect x="901" y="615" width="1" height="110" fill="#c0c0c0"/>
<rect x="909" y="614" width="1" height="111" fill="#c0c0c0"/>
<rect x="917" y="632" width="1" height="93" fill="#c0c0c0"/>
<rect x="925" y="644" width="1" height="81" fill="#c0c0c0"/>
<rect x="933" y="661" width="1" height="64" fill="#c0c0c0"/>
<rect x="941" y="675" width="1" height="50" fill="#c0c0c0"/>
<rect x="949" y="687" width="1" height="38" fill="#c0c0c0"/>
<rect x="957" y="698" width="1" height="27" fill="#c0c0c0"/>
<rect x="965" y="707" width="1" height="18" fill="#c0c0c0"/>
<rect x="973" y="720" width="1" height="5" fill="#c0c0c0"/>
<rect x="981" y="724" width="1" height="6" fill="#c0c0c0"/>
<rect x="989" y="724" width="1" height="15" fill="#c0c0c0"/>
<rect x="997" y="724" width="1" height="22" fill="#c0c0c0"/>
<rect x="1005" y="724" width="1" height="22" fill="#c0c0c0"/>
<rect x="1013" y="724" width="1" height="29" fill="#c0c0c0"/>
<rect x="1021" y="724" width="1" height="28" fill="#c0c0c0"/>
<rect x="1029" y="724" width="1" height="32" fill="#c0c0c0"/>
<rect x="1037" y="724" width="1" height="30" fill="#c0c0c0"/>
<rect x="1045" y="724" width="1" height="29" fill="#c0c0c0"/>
<rect x="1053" y="724" width="1" height="27" fill="#c0c0c0"/>
<rect x="1061" y="724" width="1" height="25" fill="#c0c0c0"/>
<rect x="1069" y="724" width="1" height="17" fill="#c0c0c0"/>
<rect x="1077" y="724" width="1" height="10" fill="#c0c0c0"/>
<rect x="1085" y="723" width="1" height="2" fill="#c0c0c0"/>
<rect x="1093" y="712" width="1" height="13" fill="#c0c0c0"/>
<rect x="1101" y="705" width="1" height="20" fill="#c0c0c0"/>
<rect x="1109" y="699" width="1" height="26" fill="#c0c0c0"/>
<rect x="1117" y="690" width="1" height="35" fill="#c0c0c0"/>
<rect x="1125" y="683" width="1" height="42" fill="#c0c0c0"/>
<rect x="1133" y="673" width="1" height="52" fill="#c0c0c0"/>
<rect x="1141" y="664" width="1" height="61" fill="#c0c0c0"/>
<rect x="1149" y="659" width="1" height="66" fill="#c0c0c0"/>
<rect x="1157" y="657" width="1" height="68" fill="#c0c0c0"/>
<rect x="1165" y="652" width="1" height="73" fill="#c0c0c0"/>
<rect x="1173" y="649" width="1" height="76" fill="#c0c0c0"/>
<rect x="1181" y="644" width="1" height="81" fill="#c0c0c0"/>
<rect x="1189" y="640" width="1" height="85" fill="#c0c0c0"/>
<rect x="1197" y="636" width="1" height="89" fill="#c0c0c0"/>
<rect x="1205" y="635" width="1" height="90" fill="#c0c0c0"/>
<rect x="1213" y="639" width="1" height="86" fill="#c0c0c0"/>
<rect x="1221" y="639" width="1" height="86" fill="#c0c0c0"/>
<rect x="1229" y="646" width="1" height="79" fill="#c0c0c0"/>
<rect x="1237" y="652" width="1" height="73" fill="#c0c0c0"/>
<rect x="1245" y="659" width="1" height="66" fill="#c0c0c0"/>
<rect x="1253" y="664" width="1" height="61" fill="#c0c0c0"/>
<rect x="1261" y="667" width="1" height="58" fill="#c0c0c0"/>
<rect x="1269" y="668" width="1" height="57" fill="#c0c0c0"/>
<rect x="1277" y="670" width="1" height="55" fill="#c0c0c0"/>
<rect x="1285" y="676" width="1" height="49" fill="#c0c0c0"/>
<rect x="1293" y="680" width="1" height="45" fill="#c0c0c0"/>
<rect x="1301" y="683" width="1" height="42" fill="#c0c0c0"/>
<rect x="1309" y="686" width="1" height="39" fill="#c0c0c0"/>
<rect x="1317" y="690" width="1" height="35" fill="#c0c0c0"/>
</g>
<path d="M2 753h1v1h-1zM3 752h1v1h-1zM4 752h1v1h-1zM8 751h1v1h-1zM9 751h1v1h-1zM10 750h1v1h-1zM14 749h1v1h-1zM15 749h1v1h-1zM16 748h1v1h-1zM20 747h1v1h-1zM21 747h1v1h-1zM22 747h1v1h-1zM26 745h1v1h-1zM27 744h1v1h-1zM28 744h1v1h-1zM32 742h1v1h-1zM33 742h1v1h-1zM34 742h1v1h-1zM38 741h1v1h-1zM39 740h1v1h-1zM40 740h1v1h-1zM44 739h1v1h-1zM45 739h1v1h-1zM46 739h1v1h-1zM50 739h1v1h-1zM51 738h1v1h-1zM52 738h1v1h-1zM56 738h1v1h-1zM57 738h1v1h-1zM58 738h1v1h-1zM62 737h1v1h-1zM63 736h1v1h-1zM64 736h1v1h-1zM68 734h1v1h-1zM69 734h1v1h-1zM70 733h1v1h-1zM74 732h1v1h-1zM75 732h1v1h-1zM76 731h1v1h-1zM80 730h1v1h-1zM81 730h1v1h-1zM82 730h1v1h-1zM86 728h1v1h-1zM87 728h1v1h-1zM88 727h1v1h-1zM92 725h1v1h-1zM93 725h1v1h-1zM94 724h1v1h-1zM98 721h1v1h-1zM99 721h1v1h-1zM100 720h1v1h-1zM104 717h1v1h-1zM105 716h1v1h-1zM106 716h1v1h-1zM110 713h1v1h-1zM111 712h1v1h-1zM112 711h1v1h-1zM116 707h1v1h-1zM117 706h1v1h-1zM118 705h1v1h-1zM122 701h1v1h-1zM123 700h1v1h-1zM124 699h1v1h-1zM128 695h1v1h-1zM129 694h1v1h-1zM130 693h1v1h-1zM134 689h1v1h-1zM135 688h1v1h-1zM136 687h1v1h-1zM140 683h1v1h-1zM141 682h1v1h-1zM142 681h1v1h-1zM146 678h1v1h-1zM147 677h1v1h-1zM148 676h1v1h-1zM152 673h1v1h-1zM153 672h1v1h-1zM154 671h1v1h-1zM158 668h1v1h-1zM159 668h1v1h-1zM160 667h1v1h-1zM164 664h1v1h-1zM165 664h1v1h-1zM166 663h1v1h-1zM170 661h1v1h-1zM171 661h1v1h-1zM172 660h1v1h-1zM176 659h1v1h-1zM177 658h1v1h-1zM178 658h1v1h-1zM182 657h1v1h-1zM183 656h1v1h-1zM184 656h1v1h-1zM188 655h1v1h-1zM189 655h1v1h-1zM190 655h1v1h-1zM194 654h1v1h-1zM195 654h1v1h-1zM196 654h1v1h-1zM200 654h1v1h-1zM201 654h1v1h-1zM202 654h1v1h-1zM206 654h1v1h-1zM207 655h1v1h-1zM208 655h1v1h-1zM212 655h1v1h-1zM213 655h1v1h-1zM214 656h1v1h-1zM218 657h1v1h-1zM219 657h1v1h-1zM220 657h1v1h-1zM224 658h1v1h-1zM225 658h1v1h-1zM226 659h1v1h-1zM230 659h1v1h-1zM231 659h1v1h-1zM232 659h1v1h-1zM236 660h1v1h-1zM237 660h1v1h-1zM238 660h1v1h-1zM242 659h1v1h-1zM243 659h1v1h-1zM244 659h1v1h-1zM248 659h1v1h-1zM249 659h1v1h-1zM250 659h1v1h-1zM254 659h1v1h-1zM255 659h1v1h-1zM256 659h1v1h-1zM260 659h1v1h-1zM261 659h1v1h-1zM262 659h1v1h-1zM266 660h1v1h-1zM267 660h1v1h-1zM268 660h1v1h-1zM272 661h1v1h-1zM273 661h1v1h-1zM274 662h1v1h-1zM278 663h1v1h-1zM279 664h1v1h-1zM280 664h1v1h-1zM284 666h1v1h-1zM285 666h1v1h-1zM286 666h1v1h-1zM290 668h1v1h-1zM291 668h1v1h-1zM292 668h1v1h-1zM296 670h1v1h-1zM297 671h1v1h-1zM298 671h1v1h-1zM302 673h1v1h-1zM303 674h1v1h-1zM304 675h1v1h-1zM308 677h1v1h-1zM309 678h1v1h-1zM310 678h1v1h-1zM314 680h1v1h-1zM315 680h1v1h-1zM316 681h1v1h-1zM320 682h1v1h-1zM321 682h1v1h-1zM322 682h1v1h-1zM326 683h1v1h-1zM327 683h1v1h-1zM328 683h1v1h-1zM332 683h1v1h-1zM333 683h1v1h-1zM334 683h1v1h-1zM338 681h1v1h-1zM339 681h1v1h-1zM340 681h1v1h-1zM344 678h1v1h-1zM345 678h1v1h-1zM346 677h1v1h-1zM350 674h1v1h-1zM351 673h1v1h-1zM352 672h1v1h-1zM356 668h1v1h-1zM357 667h1v1h-1zM358 666h1v1h-1zM362 662h1v1h-1zM363 661h1v1h-1zM364 660h1v1h-1zM368 655h1v1h-1zM369 653h1v2h-1zM370 652h1v1h-1zM374 647h1v1h-1zM375 646h1v1h-1zM376 644h1v2h-1zM380 639h1v1h-1zM381 638h1v1h-1zM382 636h1v2h-1zM386 632h1v1h-1zM387 630h1v2h-1zM388 629h1v1h-1zM392 625h1v1h-1zM393 624h1v1h-1zM394 623h1v1h-1zM398 619h1v1h-1zM399 618h1v1h-1zM400 617h1v1h-1zM404 614h1v1h-1zM405 613h1v1h-1zM406 612h1v1h-1zM410 609h1v1h-1zM411 609h1v1h-1zM412 608h1v1h-1zM416 606h1v1h-1zM417 605h1v1h-1zM418 605h1v1h-1zM422 603h1v1h-1zM423 602h1v1h-1zM424 602h1v1h-1zM428 600h1v1h-1zM429 600h1v1h-1zM430 599h1v1h-1zM434 599h1v1h-1zM435 598h1v1h-1zM436 598h1v1h-1zM440 598h1v1h-1zM441 598h1v1h-1zM442 598h1v1h-1zM446 599h1v1h-1zM447 599h1v1h-1zM448 599h1v1h-1zM452 599h1v1h-1zM453 600h1v1h-1zM454 600h1v1h-1zM458 601h1v1h-1zM459 601h1v1h-1zM460 602h1v1h-1zM464 604h1v1h-1zM465 604h1v1h-1zM466 604h1v1h-1zM470 606h1v1h-1zM471 607h1v1h-1zM472 608h1v1h-1zM476 610h1v1h-1zM477 610h1v1h-1zM478 611h1v1h-1zM482 614h1v1h-1zM483 614h1v1h-1zM484 615h1v1h-1zM488 618h1v1h-1zM489 618h1v1h-1zM490 619h1v1h-1zM494 622h1v1h-1zM495 622h1v1h-1zM496 623h1v1h-1zM500 625h1v1h-1zM501 626h1v1h-1zM502 626h1v1h-1zM506 628h1v1h-1zM507 628h1v1h-1zM508 628h1v1h-1zM512 629h1v1h-1zM513 629h1v1h-1zM514 629h1v1h-1zM518 629h1v1h-1zM519 629h1v1h-1zM520 629h1v1h-1zM524 628h1v1h-1zM525 628h1v1h-1zM526 628h1v1h-1zM530 627h1v1h-1zM531 627h1v1h-1zM532 626h1v1h-1zM536 625h1v1h-1zM537 625h1v1h-1zM538 624h1v1h-1zM542 623h1v1h-1zM543 622h1v1h-1zM544 622h1v1h-1zM548 620h1v1h-1zM549 620h1v1h-1zM550 619h1v1h-1zM554 617h1v1h-1zM555 617h1v1h-1zM556 616h1v1h-1zM560 614h1v1h-1zM561 614h1v1h-1zM562 613h1v1h-1zM566 612h1v1h-1zM567 611h1v1h-1zM568 611h1v1h-1zM572 610h1v1h-1zM573 610h1v1h-1zM574 610h1v1h-1zM578 609h1v1h-1zM579 609h1v1h-1zM580 609h1v1h-1zM584 609h1v1h-1zM585 609h1v1h-1zM586 610h1v1h-1zM590 611h1v1h-1zM591 611h1v1h-1zM592 612h1v1h-1zM596 613h1v1h-1zM597 614h1v1h-1zM598 615h1v1h-1zM602 617h1v1h-1zM603 618h1v1h-1zM604 619h1v1h-1zM608 622h1v1h-1zM609 623h1v1h-1zM610 624h1v1h-1zM614 627h1v1h-1zM615 628h1v1h-1zM616 629h1v1h-1zM620 633h1v1h-1zM621 634h1v1h-1zM622 635h1v1h-1zM626 638h1v1h-1zM627 639h1v1h-1zM628 640h1v1h-1zM632 643h1v1h-1zM633 644h1v1h-1zM634 645h1v1h-1zM638 647h1v1h-1zM639 648h1v1h-1zM640 649h1v1h-1zM644 651h1v1h-1zM645 652h1v1h-1zM646 653h1v1h-1zM650 655h1v1h-1zM651 655h1v1h-1zM652 656h1v1h-1zM656 658h1v1h-1zM657 658h1v1h-1zM658 659h1v1h-1zM662 660h1v1h-1zM663 661h1v1h-1zM664 661h1v1h-1zM668 662h1v1h-1zM669 662h1v1h-1zM670 662h1v1h-1zM674 663h1v1h-1zM675 663h1v1h-1zM676 663h1v1h-1zM680 664h1v1h-1zM681 664h1v1h-1zM682 664h1v1h-1zM686 664h1v1h-1zM687 664h1v1h-1zM688 664h1v1h-1zM692 665h1v1h-1zM693 665h1v1h-1zM694 665h1v1h-1zM698 666h1v1h-1zM699 666h1v1h-1zM700 666h1v1h-1zM704 667h1v1h-1zM705 667h1v1h-1zM706 668h1v1h-1zM710 669h1v1h-1zM711 669h1v1h-1zM712 670h1v1h-1zM716 671h1v1h-1zM717 671h1v1h-1zM718 671h1v1h-1zM722 672h1v1h-1zM723 673h1v1h-1zM724 673h1v1h-1zM728 674h1v1h-1zM729 674h1v1h-1zM730 674h1v1h-1zM734 674h1v1h-1zM735 675h1v1h-1zM736 675h1v1h-1zM740 675h1v1h-1zM741 676h1v1h-1zM742 676h1v1h-1zM746 676h1v1h-1zM747 676h1v1h-1zM748 676h1v1h-1zM752 676h1v1h-1zM753 676h1v1h-1zM754 676h1v1h-1zM758 676h1v1h-1zM759 675h1v1h-1zM760 675h1v1h-1zM764 675h1v1h-1zM765 675h1v1h-1zM766 675h1v1h-1zM770 674h1v1h-1zM771 674h1v1h-1zM772 674h1v1h-1zM776 673h1v1h-1zM777 672h1v1h-1zM778 672h1v1h-1zM782 671h1v1h-1zM783 670h1v1h-1zM784 670h1v1h-1zM788 668h1v1h-1zM789 668h1v1h-1zM790 668h1v1h-1zM794 666h1v1h-1zM795 666h1v1h-1zM796 665h1v1h-1zM800 664h1v1h-1zM801 664h1v1h-1zM802 664h1v1h-1zM806 663h1v1h-1zM807 662h1v1h-1zM808 662h1v1h-1zM812 661h1v1h-1zM813 661h1v1h-1zM814 660h1v1h-1zM818 659h1v1h-1zM819 658h1v1h-1zM820 658h1v1h-1zM824 656h1v1h-1zM825 655h1v1h-1zM826 655h1v1h-1zM830 653h1v1h-1zM831 652h1v1h-1zM832 652h1v1h-1zM836 649h1v1h-1zM837 649h1v1h-1zM838 648h1v1h-1zM842 645h1v1h-1zM843 645h1v1h-1zM844 644h1v1h-1zM848 641h1v1h-1zM849 641h1v1h-1zM850 640h1v1h-1zM854 637h1v1h-1zM855 636h1v1h-1zM856 636h1v1h-1zM860 633h1v1h-1zM861 632h1v1h-1zM862 632h1v1h-1zM866 629h1v1h-1zM867 629h1v1h-1zM868 628h1v1h-1zM872 626h1v1h-1zM873 625h1v1h-1zM874 625h1v1h-1zM878 623h1v1h-1zM879 622h1v1h-1zM880 622h1v1h-1zM884 620h1v1h-1zM885 620h1v1h-1zM886 619h1v1h-1zM890 618h1v1h-1zM891 618h1v1h-1zM892 618h1v1h-1zM896 617h1v1h-1zM897 616h1v1h-1zM898 616h1v1h-1zM902 615h1v1h-1zM903 615h1v1h-1zM904 615h1v1h-1zM908 614h1v1h-1zM909 614h1v1h-1zM910 614h1v1h-1zM914 615h1v1h-1zM915 615h1v1h-1zM916 615h1v1h-1zM920 616h1v1h-1zM921 617h1v1h-1zM922 617h1v1h-1zM926 619h1v1h-1zM927 620h1v1h-1zM928 621h1v1h-1zM932 623h1v1h-1zM933 624h1v1h-1zM934 625h1v1h-1zM938 628h1v1h-1zM939 629h1v1h-1zM940 630h1v1h-1zM944 634h1v1h-1zM945 635h1v1h-1zM946 636h1v1h-1zM950 640h1v2h-1zM951 642h1v1h-1zM952 643h1v1h-1zM956 647h1v2h-1zM957 649h1v1h-1zM958 650h1v1h-1zM962 655h1v1h-1zM963 656h1v1h-1zM964 657h1v2h-1zM968 663h1v2h-1zM969 665h1v1h-1zM970 666h1v1h-1zM974 672h1v2h-1zM975 674h1v1h-1zM976 675h1v2h-1zM980 682h1v1h-1zM981 683h1v2h-1zM982 685h1v1h-1zM986 691h1v1h-1zM987 692h1v2h-1zM988 694h1v1h-1zM992 699h1v2h-1zM993 701h1v1h-1zM994 702h1v1h-1zM998 707h1v2h-1zM999 709h1v1h-1zM1000 710h1v1h-1zM1004 715h1v1h-1zM1005 716h1v1h-1zM1006 717h1v1h-1zM1010 721h1v1h-1zM1011 722h1v1h-1zM1012 723h1v1h-1zM1016 727h1v1h-1zM1017 728h1v1h-1zM1018 729h1v1h-1zM1022 732h1v1h-1zM1023 733h1v1h-1zM1024 734h1v1h-1zM1028 737h1v1h-1zM1029 738h1v1h-1zM1030 739h1v1h-1zM1034 741h1v1h-1zM1035 742h1v1h-1zM1036 743h1v1h-1zM1040 745h1v1h-1zM1041 745h1v1h-1zM1042 745h1v1h-1zM1046 747h1v1h-1zM1047 747h1v1h-1zM1048 748h1v1h-1zM1052 749h1v1h-1zM1053 749h1v1h-1zM1054 749h1v1h-1zM1058 750h1v1h-1zM1059 750h1v1h-1zM1060 750h1v1h-1zM1064 750h1v1h-1zM1065 750h1v1h-1zM1066 750h1v1h-1zM1070 750h1v1h-1zM1071 749h1v1h-1zM1072 749h1v1h-1zM1076 749h1v1h-1zM1077 748h1v1h-1zM1078 748h1v1h-1zM1082 746h1v1h-1zM1083 746h1v1h-1zM1084 745h1v1h-1zM1088 743h1v1h-1zM1089 743h1v1h-1zM1090 742h1v1h-1zM1094 740h1v1h-1zM1095 739h1v1h-1zM1096 739h1v1h-1zM1100 736h1v1h-1zM1101 735h1v1h-1zM1102 734h1v1h-1zM1106 731h1v1h-1zM1107 730h1v1h-1zM1108 730h1v1h-1zM1112 726h1v1h-1zM1113 725h1v1h-1zM1114 725h1v1h-1zM1118 721h1v1h-1zM1119 720h1v1h-1zM1120 719h1v1h-1zM1124 715h1v1h-1zM1125 714h1v1h-1zM1126 713h1v1h-1zM1130 709h1v1h-1zM1131 708h1v1h-1zM1132 707h1v1h-1zM1136 703h1v1h-1zM1137 702h1v1h-1zM1138 701h1v1h-1zM1142 697h1v1h-1zM1143 695h1v2h-1zM1144 694h1v1h-1zM1148 690h1v1h-1zM1149 689h1v1h-1zM1150 688h1v1h-1zM1154 685h1v1h-1zM1155 684h1v1h-1zM1156 683h1v1h-1zM1160 679h1v1h-1zM1161 679h1v1h-1zM1162 678h1v1h-1zM1166 675h1v1h-1zM1167 674h1v1h-1zM1168 673h1v1h-1zM1172 670h1v1h-1zM1173 669h1v1h-1zM1174 668h1v1h-1zM1178 665h1v1h-1zM1179 665h1v1h-1zM1180 664h1v1h-1zM1184 661h1v1h-1zM1185 660h1v1h-1zM1186 660h1v1h-1zM1190 657h1v1h-1zM1191 656h1v1h-1zM1192 655h1v1h-1zM1196 653h1v1h-1zM1197 652h1v1h-1zM1198 652h1v1h-1zM1202 650h1v1h-1zM1203 649h1v1h-1zM1204 649h1v1h-1zM1208 647h1v1h-1zM1209 647h1v1h-1zM1210 646h1v1h-1zM1214 645h1v1h-1zM1215 645h1v1h-1zM1216 644h1v1h-1zM1220 643h1v1h-1zM1221 643h1v1h-1zM1222 643h1v1h-1zM1226 642h1v1h-1zM1227 642h1v1h-1zM1228 642h1v1h-1zM1232 642h1v1h-1zM1233 642h1v1h-1zM1234 642h1v1h-1zM1238 642h1v1h-1zM1239 642h1v1h-1zM1240 642h1v1h-1zM1244 643h1v1h-1zM1245 643h1v1h-1zM1246 643h1v1h-1zM1250 644h1v1h-1zM1251 645h1v1h-1zM1252 645h1v1h-1zM1256 646h1v1h-1zM1257 647h1v1h-1zM1258 647h1v1h-1zM1262 649h1v1h-1zM1263 649h1v1h-1zM1264 649h1v1h-1zM1268 651h1v1h-1zM1269 652h1v1h-1zM1270 652h1v1h-1zM1274 654h1v1h-1zM1275 655h1v1h-1zM1276 655h1v1h-1zM1280 657h1v1h-1zM1281 658h1v1h-1zM1282 658h1v1h-1zM1286 660h1v1h-1zM1287 661h1v1h-1zM1288 661h1v1h-1zM1292 664h1v1h-1zM1293 664h1v1h-1zM1294 665h1v1h-1zM1298 667h1v1h-1zM1299 667h1v1h-1zM1300 668h1v1h-1zM1304 670h1v1h-1zM1305 670h1v1h-1zM1306 671h1v1h-1zM1310 673h1v1h-1zM1311 673h1v1h-1zM1312 673h1v1h-1zM1316 675h1v1h-1zM1317 676h1v1h-1z" fill="#ff0000" shape-rendering="crispEdges"/>
<text class="ax" x="1.6" y="595.3" textLength="117.3" lengthAdjust="spacingAndGlyphs">MACD(12,26,9) 30.00 42.13</text>
<rect x="1626" y="724" width="2" height="1" fill="#000" shape-rendering="crispEdges"/><rect x="1626" y="583" width="2" height="1" fill="#000" shape-rendering="crispEdges"/><rect x="1626" y="764" width="2" height="1" fill="#000" shape-rendering="crispEdges"/><rect x="1626" y="768" width="2" height="1" fill="#000" shape-rendering="crispEdges"/>
<text class="ax" x="1629.5" y="592.3" textLength="27.6" lengthAdjust="spacingAndGlyphs">121.02</text>
<text class="ax" x="1629.5" y="727.6" textLength="17.6" lengthAdjust="spacingAndGlyphs">0.00</text>
<text class="ax" x="1629.5" y="761.6" textLength="25.9" lengthAdjust="spacingAndGlyphs">-34.72</text>
<g shape-rendering="crispEdges">
<path d="M0 800.5H1625" stroke="#c0c0c0" stroke-width="1" stroke-dasharray="3 3" stroke-dashoffset="2" fill="none"/>
<path d="M0 847.5H1625" stroke="#c0c0c0" stroke-width="1" stroke-dasharray="3 3" stroke-dashoffset="2" fill="none"/>
<path d="M0 903.5H1625" stroke="#c0c0c0" stroke-width="1" stroke-dasharray="3 3" stroke-dashoffset="2" fill="none"/>
</g>
<path d="M0 845h1v1h-1zM1 844h2v1h-2zM3 843h2v1h-2zM5 842h2v1h-2zM7 841h2v1h-2zM9 840h2v1h-2zM11 839h2v1h-2zM13 838h1v2h-1zM14 840h1v2h-1zM15 842h1v2h-1zM16 844h1v2h-1zM17 846h1v2h-1zM18 848h1v2h-1zM19 850h1v2h-1zM20 852h1v2h-1zM21 854h5v1h-5zM26 855h8v1h-8zM34 856h5v1h-5zM39 855h3v1h-3zM42 854h2v1h-2zM44 853h18v1h-18zM61 852h1v1h-1zM62 848h1v4h-1zM63 844h1v4h-1zM64 840h1v4h-1zM65 837h1v3h-1zM66 833h1v4h-1zM67 829h1v4h-1zM68 825h1v4h-1zM69 823h1v2h-1zM70 824h1v1h-1zM71 825h1v2h-1zM72 827h1v1h-1zM73 828h1v1h-1zM74 829h1v1h-1zM75 830h1v2h-1zM76 832h1v1h-1zM77 833h9v1h-9zM86 832h2v1h-2zM88 831h2v1h-2zM90 830h1v1h-1zM91 829h2v1h-2zM93 828h3v1h-3zM96 827h4v1h-4zM100 826h6v1h-6zM106 825h5v1h-5zM111 824h3v1h-3zM114 823h2v1h-2zM116 822h4v1h-4zM120 821h4v1h-4zM124 820h3v1h-3zM127 819h3v1h-3zM130 818h2v1h-2zM132 817h4v1h-4zM136 816h4v1h-4zM140 815h4v1h-4zM144 816h4v1h-4zM148 817h6v1h-6zM154 818h4v1h-4zM158 819h1v2h-1zM159 821h1v1h-1zM160 822h1v2h-1zM161 824h1v1h-1zM162 825h1v2h-1zM163 827h1v1h-1zM164 828h1v2h-1zM165 830h5v1h-5zM170 829h4v1h-4zM174 828h2v1h-2zM176 827h2v1h-2zM178 826h1v1h-1zM179 825h2v1h-2zM181 824h5v1h-5zM186 823h4v1h-4zM190 824h1v1h-1zM191 825h1v1h-1zM192 826h2v1h-2zM194 827h1v1h-1zM195 828h1v1h-1zM196 829h1v1h-1zM197 830h3v1h-3zM200 829h4v1h-4zM204 828h4v1h-4zM208 827h4v1h-4zM212 826h2v1h-2zM214 827h1v2h-1zM215 829h1v2h-1zM216 831h1v2h-1zM217 833h1v1h-1zM218 834h1v2h-1zM219 836h1v2h-1zM220 838h1v2h-1zM221 839h1v2h-1zM222 837h1v2h-1zM223 834h1v3h-1zM224 831h1v3h-1zM225 829h1v2h-1zM226 826h1v3h-1zM227 823h1v3h-1zM228 821h1v2h-1zM229 819h1v2h-1zM230 819h2v1h-2zM232 818h4v1h-4zM236 817h14v1h-14zM250 816h4v1h-4zM253 817h1v1h-1zM254 818h1v3h-1zM255 821h1v3h-1zM256 824h1v3h-1zM257 827h1v2h-1zM258 829h1v3h-1zM259 832h1v3h-1zM260 835h1v3h-1zM261 838h1v3h-1zM262 841h1v2h-1zM263 843h1v2h-1zM264 845h1v2h-1zM265 847h1v2h-1zM266 849h1v2h-1zM267 851h1v2h-1zM268 853h1v2h-1zM269 855h1v2h-1zM270 855h2v1h-2zM272 854h2v1h-2zM274 853h1v1h-1zM275 852h2v1h-2zM277 851h3v1h-3zM280 852h4v1h-4zM284 853h2v1h-2zM286 852h1v1h-1zM287 850h1v2h-1zM288 849h1v1h-1zM289 848h1v1h-1zM290 847h1v1h-1zM291 845h1v2h-1zM292 844h1v1h-1zM293 843h5v1h-5zM298 844h5v1h-5zM303 845h3v1h-3zM306 846h2v1h-2zM308 847h2v1h-2zM309 846h1v1h-1zM310 843h1v3h-1zM311 839h1v4h-1zM312 836h1v3h-1zM313 833h1v3h-1zM314 830h1v3h-1zM315 826h1v4h-1zM316 823h1v3h-1zM317 821h1v2h-1zM318 821h1v1h-1zM319 820h3v1h-3zM322 819h2v1h-2zM324 818h3v1h-3zM327 819h3v1h-3zM330 820h2v1h-2zM332 821h3v1h-3zM335 820h2v1h-2zM337 819h2v1h-2zM339 818h2v1h-2zM341 817h3v1h-3zM344 816h4v1h-4zM348 815h11v1h-11zM359 814h2v1h-2zM361 813h2v1h-2zM363 812h2v1h-2zM365 811h2v1h-2zM367 810h3v1h-3zM370 809h2v1h-2zM372 808h2v1h-2zM374 809h1v1h-1zM375 810h1v1h-1zM376 811h1v1h-1zM377 812h1v1h-1zM378 813h1v1h-1zM379 814h1v1h-1zM380 815h1v1h-1zM381 816h1v1h-1zM382 815h2v1h-2zM384 814h2v1h-2zM386 813h1v1h-1zM387 812h2v1h-2zM389 811h5v1h-5zM394 810h6v1h-6zM400 811h4v1h-4zM404 812h10v1h-10zM414 813h1v1h-1zM415 814h1v1h-1zM416 815h1v1h-1zM417 816h1v1h-1zM418 817h1v1h-1zM419 818h1v1h-1zM420 819h1v1h-1zM421 820h1v1h-1zM422 819h2v1h-2zM424 818h1v1h-1zM425 817h1v1h-1zM426 816h2v1h-2zM428 815h1v1h-1zM429 814h1v1h-1zM430 815h1v1h-1zM431 816h1v2h-1zM432 818h1v1h-1zM433 819h1v1h-1zM434 820h1v1h-1zM435 821h1v2h-1zM436 823h1v1h-1zM437 824h2v1h-2zM439 825h2v1h-2zM441 826h2v1h-2zM443 827h2v1h-2zM445 828h5v1h-5zM450 827h6v1h-6zM456 826h4v1h-4zM460 825h3v1h-3zM463 826h2v1h-2zM465 827h2v1h-2zM467 828h2v1h-2zM469 829h5v1h-5zM474 828h13v1h-13zM487 829h2v1h-2zM489 830h2v1h-2zM491 831h2v1h-2zM493 831h1v2h-1zM494 829h1v2h-1zM495 827h1v2h-1zM496 824h1v3h-1zM497 822h1v2h-1zM498 819h1v3h-1zM499 817h1v2h-1zM500 815h1v2h-1zM501 813h1v2h-1zM502 813h4v1h-4zM506 812h4v1h-4zM510 810h1v2h-1zM511 809h1v1h-1zM512 808h1v1h-1zM513 806h1v2h-1zM514 805h1v1h-1zM515 804h1v1h-1zM516 802h1v2h-1zM517 801h1v1h-1zM518 802h1v2h-1zM519 804h1v1h-1zM520 805h1v2h-1zM521 807h1v1h-1zM522 808h1v2h-1zM523 810h1v1h-1zM524 811h1v2h-1zM525 813h3v1h-3zM528 812h4v1h-4zM532 811h2v1h-2zM534 812h1v1h-1zM535 813h1v1h-1zM536 814h1v1h-1zM537 815h1v2h-1zM538 817h1v1h-1zM539 818h1v1h-1zM540 819h1v1h-1zM541 820h3v1h-3zM544 819h4v1h-4zM548 818h6v1h-6zM554 817h4v1h-4zM558 818h1v2h-1zM559 820h1v2h-1zM560 822h1v2h-1zM561 824h1v1h-1zM562 825h1v2h-1zM563 827h1v2h-1zM564 829h1v2h-1zM565 831h10v1h-10zM575 830h2v1h-2zM577 829h2v1h-2zM579 828h2v1h-2zM581 827h5v1h-5zM586 828h4v1h-4zM590 829h1v2h-1zM591 831h1v1h-1zM592 832h1v2h-1zM593 834h1v1h-1zM594 835h1v2h-1zM595 837h1v1h-1zM596 838h1v2h-1zM597 840h1v1h-1zM598 841h2v1h-2zM600 842h1v1h-1zM601 843h1v1h-1zM602 844h2v1h-2zM604 845h1v1h-1zM605 846h13v1h-13zM618 845h4v1h-4zM621 844h1v1h-1zM622 842h1v2h-1zM623 840h1v2h-1zM624 838h1v2h-1zM625 836h1v2h-1zM626 834h1v2h-1zM627 832h1v2h-1zM628 830h1v2h-1zM629 828h1v2h-1zM630 828h1v1h-1zM631 829h3v1h-3zM634 830h2v1h-2zM636 831h3v1h-3zM639 832h3v1h-3zM642 833h2v1h-2zM644 834h2v1h-2zM646 833h1v1h-1zM647 832h1v1h-1zM648 831h1v1h-1zM649 829h1v2h-1zM650 828h1v1h-1zM651 827h1v1h-1zM652 826h1v1h-1zM653 825h2v1h-2zM655 826h2v1h-2zM657 827h2v1h-2zM659 828h2v1h-2zM661 829h2v1h-2zM663 828h2v1h-2zM665 827h2v1h-2zM667 826h2v1h-2zM669 825h1v2h-1zM670 827h1v2h-1zM671 829h1v2h-1zM672 831h1v2h-1zM673 833h1v2h-1zM674 835h1v2h-1zM675 837h1v2h-1zM676 839h1v2h-1zM677 841h2v1h-2zM679 840h3v1h-3zM682 839h2v1h-2zM684 838h2v1h-2zM686 839h1v1h-1zM687 840h1v1h-1zM688 841h2v1h-2zM690 842h1v1h-1zM691 843h1v1h-1zM692 844h1v1h-1zM693 845h2v1h-2zM695 844h3v1h-3zM698 843h2v1h-2zM700 842h2v1h-2zM702 843h1v1h-1zM703 844h1v2h-1zM704 846h1v1h-1zM705 847h1v1h-1zM706 848h1v1h-1zM707 849h1v2h-1zM708 851h1v1h-1zM709 852h1v1h-1zM710 850h1v2h-1zM711 848h1v2h-1zM712 846h1v2h-1zM713 845h1v1h-1zM714 843h1v2h-1zM715 841h1v2h-1zM716 839h1v2h-1zM717 838h1v1h-1zM718 837h1v1h-1zM719 836h1v1h-1zM720 835h1v1h-1zM721 833h1v2h-1zM722 832h1v1h-1zM723 831h1v1h-1zM724 830h1v1h-1zM725 829h5v1h-5zM730 828h5v1h-5zM735 829h3v1h-3zM738 830h2v1h-2zM740 831h14v1h-14zM754 830h4v1h-4zM758 831h1v1h-1zM759 832h1v1h-1zM760 833h2v1h-2zM762 834h1v1h-1zM763 835h1v1h-1zM764 836h1v1h-1zM765 837h2v1h-2zM767 836h2v1h-2zM769 835h2v1h-2zM771 834h2v1h-2zM773 833h2v1h-2zM775 832h2v1h-2zM777 831h2v1h-2zM779 830h2v1h-2zM781 829h1v1h-1zM782 828h1v1h-1zM783 827h1v1h-1zM784 826h1v1h-1zM785 824h1v2h-1zM786 823h1v1h-1zM787 822h1v1h-1zM788 821h1v1h-1zM789 820h2v1h-2zM791 821h3v1h-3zM794 822h2v1h-2zM796 823h3v1h-3zM799 824h3v1h-3zM802 825h2v1h-2zM804 826h2v1h-2zM806 825h2v1h-2zM808 824h1v1h-1zM809 823h1v1h-1zM810 822h2v1h-2zM812 821h1v1h-1zM813 820h1v1h-1zM814 819h2v1h-2zM816 818h1v1h-1zM817 817h1v1h-1zM818 816h2v1h-2zM820 815h1v1h-1zM821 814h5v1h-5zM826 813h5v1h-5zM831 814h2v1h-2zM833 815h2v1h-2zM835 816h2v1h-2zM837 817h3v1h-3zM840 816h4v1h-4zM844 815h2v1h-2zM846 814h2v1h-2zM848 813h1v1h-1zM849 812h1v1h-1zM850 811h2v1h-2zM852 810h1v1h-1zM853 809h9v1h-9zM862 810h1v2h-1zM863 812h1v2h-1zM864 814h1v1h-1zM865 815h1v2h-1zM866 817h1v1h-1zM867 818h1v2h-1zM868 820h1v2h-1zM869 822h2v1h-2zM871 821h2v1h-2zM873 820h2v1h-2zM875 819h2v1h-2zM877 818h3v1h-3zM880 819h4v1h-4zM884 820h3v1h-3zM887 819h3v1h-3zM890 818h2v1h-2zM892 817h4v1h-4zM896 816h4v1h-4zM900 815h4v1h-4zM904 814h4v1h-4zM908 813h2v1h-2zM909 814h1v2h-1zM910 816h1v4h-1zM911 820h1v4h-1zM912 824h1v4h-1zM913 828h1v4h-1zM914 832h1v4h-1zM915 836h1v4h-1zM916 840h1v4h-1zM917 844h1v3h-1zM918 846h2v1h-2zM920 845h4v1h-4zM924 844h2v1h-2zM926 845h1v1h-1zM927 846h1v1h-1zM928 847h1v1h-1zM929 848h1v2h-1zM930 850h1v1h-1zM931 851h1v1h-1zM932 852h1v1h-1zM933 853h13v1h-13zM946 854h6v1h-6zM952 855h4v1h-4zM956 856h6v1h-6zM962 855h4v1h-4zM966 856h1v1h-1zM967 857h1v2h-1zM968 859h1v1h-1zM969 860h1v1h-1zM970 861h1v1h-1zM971 862h1v2h-1zM972 864h1v1h-1zM973 865h5v1h-5zM978 866h8v1h-8zM986 865h8v1h-8zM994 866h4v1h-4zM998 864h1v2h-1zM999 863h1v1h-1zM1000 862h1v1h-1zM1001 860h1v2h-1zM1002 859h1v1h-1zM1003 858h1v1h-1zM1004 856h1v2h-1zM1005 855h1v1h-1zM1006 856h1v1h-1zM1007 857h1v2h-1zM1008 859h1v1h-1zM1009 860h1v1h-1zM1010 861h1v1h-1zM1011 862h1v2h-1zM1012 864h1v1h-1zM1013 865h1v1h-1zM1014 863h1v2h-1zM1015 862h1v1h-1zM1016 861h1v1h-1zM1017 859h1v2h-1zM1018 858h1v1h-1zM1019 857h1v1h-1zM1020 855h1v2h-1zM1021 854h1v1h-1zM1022 855h1v1h-1zM1023 856h1v1h-1zM1024 857h2v1h-2zM1026 858h1v1h-1zM1027 859h1v1h-1zM1028 860h1v1h-1zM1029 861h1v1h-1zM1030 860h1v1h-1zM1031 859h1v1h-1zM1032 858h1v1h-1zM1033 856h1v2h-1zM1034 855h1v1h-1zM1035 854h1v1h-1zM1036 853h1v1h-1zM1037 852h3v1h-3zM1040 853h4v1h-4zM1044 854h3v1h-3zM1047 853h3v1h-3zM1050 852h2v1h-2zM1052 851h6v1h-6zM1058 852h4v1h-4zM1062 850h1v2h-1zM1063 849h1v1h-1zM1064 848h1v1h-1zM1065 846h1v2h-1zM1066 845h1v1h-1zM1067 844h1v1h-1zM1068 842h1v2h-1zM1069 841h2v1h-2zM1071 840h3v1h-3zM1074 839h2v1h-2zM1076 838h2v1h-2zM1078 837h1v1h-1zM1079 836h1v1h-1zM1080 835h1v1h-1zM1081 833h1v2h-1zM1082 832h1v1h-1zM1083 831h1v1h-1zM1084 830h1v1h-1zM1085 829h5v1h-5zM1090 828h8v1h-8zM1098 829h12v1h-12zM1110 828h2v1h-2zM1112 827h2v1h-2zM1114 826h1v1h-1zM1115 825h2v1h-2zM1117 824h2v1h-2zM1119 823h3v1h-3zM1122 822h2v1h-2zM1124 821h2v1h-2zM1126 820h2v1h-2zM1128 819h1v1h-1zM1129 818h1v1h-1zM1130 817h2v1h-2zM1132 816h1v1h-1zM1133 815h2v1h-2zM1135 814h3v1h-3zM1138 813h2v1h-2zM1140 812h3v1h-3zM1143 813h3v1h-3zM1146 814h2v1h-2zM1148 815h3v1h-3zM1151 816h2v1h-2zM1153 817h2v1h-2zM1155 818h2v1h-2zM1157 819h1v1h-1zM1158 818h2v1h-2zM1160 817h2v1h-2zM1162 816h1v1h-1zM1163 815h2v1h-2zM1165 814h3v1h-3zM1168 813h4v1h-4zM1172 812h3v1h-3zM1175 811h3v1h-3zM1178 810h2v1h-2zM1180 809h3v1h-3zM1183 808h3v1h-3zM1186 807h2v1h-2zM1188 806h11v1h-11zM1199 807h2v1h-2zM1201 808h2v1h-2zM1203 809h2v1h-2zM1205 810h1v1h-1zM1206 811h1v2h-1zM1207 813h1v2h-1zM1208 815h1v2h-1zM1209 817h1v1h-1zM1210 818h1v2h-1zM1211 820h1v2h-1zM1212 822h1v2h-1zM1213 824h1v1h-1zM1214 823h1v1h-1zM1215 822h1v1h-1zM1216 821h2v1h-2zM1218 820h1v1h-1zM1219 819h1v1h-1zM1220 818h1v1h-1zM1221 817h1v2h-1zM1222 819h1v2h-1zM1223 821h1v2h-1zM1224 823h1v2h-1zM1225 825h1v2h-1zM1226 827h1v2h-1zM1227 829h1v2h-1zM1228 831h1v2h-1zM1229 833h1v2h-1zM1230 834h4v1h-4zM1234 833h5v1h-5zM1239 834h3v1h-3zM1242 835h2v1h-2zM1244 836h4v1h-4zM1248 835h4v1h-4zM1252 834h4v1h-4zM1256 833h4v1h-4zM1260 832h3v1h-3zM1263 831h3v1h-3zM1266 830h2v1h-2zM1268 829h3v1h-3zM1271 828h3v1h-3zM1274 827h2v1h-2zM1276 826h2v1h-2zM1278 827h1v2h-1zM1279 829h1v2h-1zM1280 831h1v1h-1zM1281 832h1v2h-1zM1282 834h1v1h-1zM1283 835h1v2h-1zM1284 837h1v2h-1zM1285 839h2v1h-2zM1287 840h3v1h-3zM1290 841h2v1h-2zM1292 842h2v1h-2zM1294 841h1v1h-1zM1295 840h1v1h-1zM1296 839h2v1h-2zM1298 838h1v1h-1zM1299 837h1v1h-1zM1300 836h1v1h-1zM1301 835h9v1h-9zM1310 836h1v1h-1zM1311 837h1v1h-1zM1312 838h2v1h-2zM1314 839h1v1h-1zM1315 840h1v1h-1zM1316 841h1v1h-1zM1317 842h1v1h-1z" fill="#1e90ff" shape-rendering="crispEdges"/>
<text class="ax" x="1.6" y="780.3" textLength="67" lengthAdjust="spacingAndGlyphs">RSI(14) 52.7351</text>
<text class="ax" x="1629.5" y="777.6" textLength="14.9" lengthAdjust="spacingAndGlyphs">100</text>
<text class="ax" x="1628" y="804.6" textLength="9.9" lengthAdjust="spacingAndGlyphs">80</text>
<text class="ax" x="1628" y="851.6" textLength="9.9" lengthAdjust="spacingAndGlyphs">50</text>
<text class="ax" x="1628" y="907.6" textLength="9.9" lengthAdjust="spacingAndGlyphs">15</text>
<text class="ax" x="1629.5" y="924.6" textLength="5.0" lengthAdjust="spacingAndGlyphs">0</text>
<text class="ax" x="-4.3" y="940">24 Oct 2019</text>
<rect x="61" y="928" width="1" height="3" fill="#000" shape-rendering="crispEdges"/>
<text class="ax" x="59.7" y="940">25 Oct 08:00</text>
<rect x="125" y="928" width="1" height="3" fill="#000" shape-rendering="crispEdges"/>
<text class="ax" x="123.7" y="940">28 Oct 12:00</text>
<rect x="189" y="928" width="1" height="3" fill="#000" shape-rendering="crispEdges"/>
<text class="ax" x="187.7" y="940">29 Oct 20:00</text>
<rect x="253" y="928" width="1" height="3" fill="#000" shape-rendering="crispEdges"/>
<text class="ax" x="251.7" y="940">31 Oct 04:00</text>
<rect x="317" y="928" width="1" height="3" fill="#000" shape-rendering="crispEdges"/>
<text class="ax" x="315.7" y="940">1 Nov 12:00</text>
<rect x="381" y="928" width="1" height="3" fill="#000" shape-rendering="crispEdges"/>
<text class="ax" x="379.7" y="940">4 Nov 16:00</text>
<rect x="445" y="928" width="1" height="3" fill="#000" shape-rendering="crispEdges"/>
<text class="ax" x="443.7" y="940">6 Nov 00:00</text>
<rect x="509" y="928" width="1" height="3" fill="#000" shape-rendering="crispEdges"/>
<text class="ax" x="507.7" y="940">7 Nov 08:00</text>
<rect x="573" y="928" width="1" height="3" fill="#000" shape-rendering="crispEdges"/>
<text class="ax" x="571.7" y="940">8 Nov 16:00</text>
<rect x="637" y="928" width="1" height="3" fill="#000" shape-rendering="crispEdges"/>
<text class="ax" x="635.7" y="940">11 Nov 20:00</text>
<rect x="701" y="928" width="1" height="3" fill="#000" shape-rendering="crispEdges"/>
<text class="ax" x="699.7" y="940">13 Nov 04:00</text>
<rect x="765" y="928" width="1" height="3" fill="#000" shape-rendering="crispEdges"/>
<text class="ax" x="763.7" y="940">14 Nov 12:00</text>
<rect x="829" y="928" width="1" height="3" fill="#000" shape-rendering="crispEdges"/>
<text class="ax" x="827.7" y="940">15 Nov 20:00</text>
<rect x="893" y="928" width="1" height="3" fill="#000" shape-rendering="crispEdges"/>
<text class="ax" x="891.7" y="940">19 Nov 00:00</text>
<rect x="957" y="928" width="1" height="3" fill="#000" shape-rendering="crispEdges"/>
<text class="ax" x="955.7" y="940">20 Nov 08:00</text>
<rect x="1021" y="928" width="1" height="3" fill="#000" shape-rendering="crispEdges"/>
<text class="ax" x="1019.7" y="940">21 Nov 16:00</text>
<rect x="1085" y="928" width="1" height="3" fill="#000" shape-rendering="crispEdges"/>
<text class="ax" x="1083.7" y="940">24 Nov 23:00</text>
<rect x="1149" y="928" width="1" height="3" fill="#000" shape-rendering="crispEdges"/>
<text class="ax" x="1147.7" y="940">26 Nov 04:00</text>
<rect x="1213" y="928" width="1" height="3" fill="#000" shape-rendering="crispEdges"/>
<text class="ax" x="1211.7" y="940">27 Nov 12:00</text>
<rect x="1277" y="928" width="1" height="3" fill="#000" shape-rendering="crispEdges"/>
<text class="ax" x="1275.7" y="940">28 Nov 23:00</text>
</svg></body></html>
